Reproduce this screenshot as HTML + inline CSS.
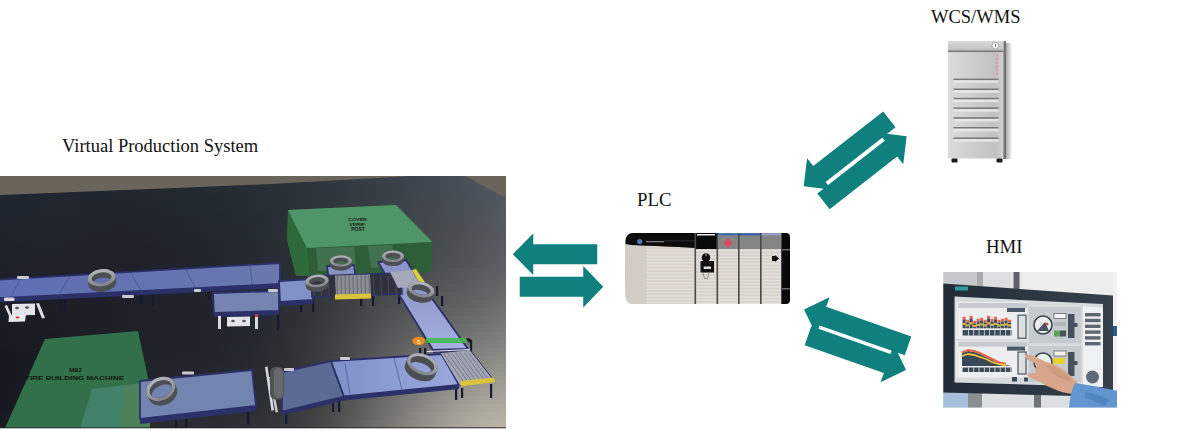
<!DOCTYPE html>
<html><head><meta charset="utf-8">
<style>
html,body{margin:0;padding:0;background:#fff;width:1200px;height:430px;overflow:hidden}
svg{display:block}
text{font-family:"Liberation Serif",serif}
.s{font-family:"Liberation Sans",sans-serif;font-weight:bold}
</style></head><body>
<svg width="1200" height="430" viewBox="0 0 1200 430">
<defs>
<filter id="fb" x="-10%" y="-10%" width="120%" height="120%"><feGaussianBlur stdDeviation="9"/></filter>
<linearGradient id="beltA" x1="0" x2="1"><stop offset="0" stop-color="#5f6db4"/><stop offset="1" stop-color="#6a78ae"/></linearGradient>
<linearGradient id="beltD" x1="0" y1="0" x2="0" y2="1"><stop offset="0" stop-color="#8a94c8"/><stop offset="1" stop-color="#a4b0de"/></linearGradient>
<linearGradient id="beltE" x1="0" x2="1"><stop offset="0" stop-color="#8090c8"/><stop offset="1" stop-color="#9aa8dc"/></linearGradient>
<linearGradient id="tireg" x1="0" y1="0" x2="0" y2="1"><stop offset="0" stop-color="#b4b8bc"/><stop offset="1" stop-color="#80848a"/></linearGradient>
<linearGradient id="f0" x1="0" x2="1"><stop offset="0.000" stop-color="#1e252f"/><stop offset="0.047" stop-color="#1f2630"/><stop offset="0.095" stop-color="#202730"/><stop offset="0.142" stop-color="#202730"/><stop offset="0.190" stop-color="#202730"/><stop offset="0.237" stop-color="#212730"/><stop offset="0.285" stop-color="#212730"/><stop offset="0.332" stop-color="#222831"/><stop offset="0.379" stop-color="#232a32"/><stop offset="0.427" stop-color="#242b34"/><stop offset="0.474" stop-color="#262d35"/><stop offset="0.522" stop-color="#282f37"/><stop offset="0.569" stop-color="#2a313a"/><stop offset="0.617" stop-color="#2d343d"/><stop offset="0.664" stop-color="#313740"/><stop offset="0.711" stop-color="#343b44"/><stop offset="0.759" stop-color="#383f48"/><stop offset="0.806" stop-color="#3c434c"/><stop offset="0.854" stop-color="#414851"/><stop offset="0.901" stop-color="#464d56"/><stop offset="0.949" stop-color="#4b525b"/><stop offset="0.996" stop-color="#505661"/><stop offset="1.000" stop-color="#505761"/></linearGradient>
<linearGradient id="f1" x1="0" x2="1"><stop offset="0.000" stop-color="#1e252f"/><stop offset="0.047" stop-color="#1f2630"/><stop offset="0.095" stop-color="#202730"/><stop offset="0.142" stop-color="#202730"/><stop offset="0.190" stop-color="#202630"/><stop offset="0.237" stop-color="#212630"/><stop offset="0.285" stop-color="#212730"/><stop offset="0.332" stop-color="#222831"/><stop offset="0.379" stop-color="#232932"/><stop offset="0.427" stop-color="#242b33"/><stop offset="0.474" stop-color="#262d35"/><stop offset="0.522" stop-color="#282f37"/><stop offset="0.569" stop-color="#2a313a"/><stop offset="0.617" stop-color="#2d343d"/><stop offset="0.664" stop-color="#313740"/><stop offset="0.711" stop-color="#343b44"/><stop offset="0.759" stop-color="#383f48"/><stop offset="0.806" stop-color="#3c434c"/><stop offset="0.854" stop-color="#414851"/><stop offset="0.901" stop-color="#464d56"/><stop offset="0.949" stop-color="#4b525b"/><stop offset="0.996" stop-color="#505761"/><stop offset="1.000" stop-color="#515761"/></linearGradient>
<linearGradient id="f2" x1="0" x2="1"><stop offset="0.000" stop-color="#1e252f"/><stop offset="0.047" stop-color="#1f2630"/><stop offset="0.095" stop-color="#202730"/><stop offset="0.142" stop-color="#202730"/><stop offset="0.190" stop-color="#202630"/><stop offset="0.237" stop-color="#212630"/><stop offset="0.285" stop-color="#212730"/><stop offset="0.332" stop-color="#222831"/><stop offset="0.379" stop-color="#232932"/><stop offset="0.427" stop-color="#242b33"/><stop offset="0.474" stop-color="#262d35"/><stop offset="0.522" stop-color="#282f37"/><stop offset="0.569" stop-color="#2a313a"/><stop offset="0.617" stop-color="#2d343d"/><stop offset="0.664" stop-color="#313740"/><stop offset="0.711" stop-color="#353b44"/><stop offset="0.759" stop-color="#383f47"/><stop offset="0.806" stop-color="#3d434c"/><stop offset="0.854" stop-color="#414851"/><stop offset="0.901" stop-color="#464d56"/><stop offset="0.949" stop-color="#4b525b"/><stop offset="0.996" stop-color="#515760"/><stop offset="1.000" stop-color="#515761"/></linearGradient>
<linearGradient id="f3" x1="0" x2="1"><stop offset="0.000" stop-color="#1e252f"/><stop offset="0.047" stop-color="#202630"/><stop offset="0.095" stop-color="#202630"/><stop offset="0.142" stop-color="#202630"/><stop offset="0.190" stop-color="#20262f"/><stop offset="0.237" stop-color="#21262f"/><stop offset="0.285" stop-color="#212630"/><stop offset="0.332" stop-color="#222830"/><stop offset="0.379" stop-color="#232931"/><stop offset="0.427" stop-color="#242b33"/><stop offset="0.474" stop-color="#262c35"/><stop offset="0.522" stop-color="#282e37"/><stop offset="0.569" stop-color="#2a3139"/><stop offset="0.617" stop-color="#2d343c"/><stop offset="0.664" stop-color="#313740"/><stop offset="0.711" stop-color="#353b43"/><stop offset="0.759" stop-color="#393f47"/><stop offset="0.806" stop-color="#3d434c"/><stop offset="0.854" stop-color="#424850"/><stop offset="0.901" stop-color="#474d56"/><stop offset="0.949" stop-color="#4c525b"/><stop offset="0.996" stop-color="#515760"/><stop offset="1.000" stop-color="#525861"/></linearGradient>
<linearGradient id="f4" x1="0" x2="1"><stop offset="0.000" stop-color="#1e252f"/><stop offset="0.047" stop-color="#202630"/><stop offset="0.095" stop-color="#202630"/><stop offset="0.142" stop-color="#202630"/><stop offset="0.190" stop-color="#20262f"/><stop offset="0.237" stop-color="#21262f"/><stop offset="0.285" stop-color="#21262f"/><stop offset="0.332" stop-color="#222730"/><stop offset="0.379" stop-color="#232931"/><stop offset="0.427" stop-color="#242b33"/><stop offset="0.474" stop-color="#262c34"/><stop offset="0.522" stop-color="#282e36"/><stop offset="0.569" stop-color="#2a3139"/><stop offset="0.617" stop-color="#2e343c"/><stop offset="0.664" stop-color="#31373f"/><stop offset="0.711" stop-color="#353b43"/><stop offset="0.759" stop-color="#393f47"/><stop offset="0.806" stop-color="#3d434b"/><stop offset="0.854" stop-color="#424850"/><stop offset="0.901" stop-color="#474d56"/><stop offset="0.949" stop-color="#4c525b"/><stop offset="0.996" stop-color="#525760"/><stop offset="1.000" stop-color="#525861"/></linearGradient>
<linearGradient id="f5" x1="0" x2="1"><stop offset="0.000" stop-color="#1e252e"/><stop offset="0.047" stop-color="#20262f"/><stop offset="0.095" stop-color="#202630"/><stop offset="0.142" stop-color="#21262f"/><stop offset="0.190" stop-color="#20262f"/><stop offset="0.237" stop-color="#21262f"/><stop offset="0.285" stop-color="#21262f"/><stop offset="0.332" stop-color="#222730"/><stop offset="0.379" stop-color="#232931"/><stop offset="0.427" stop-color="#242a32"/><stop offset="0.474" stop-color="#262c34"/><stop offset="0.522" stop-color="#282e36"/><stop offset="0.569" stop-color="#2a3139"/><stop offset="0.617" stop-color="#2e343c"/><stop offset="0.664" stop-color="#31373f"/><stop offset="0.711" stop-color="#353b43"/><stop offset="0.759" stop-color="#393f47"/><stop offset="0.806" stop-color="#3e444b"/><stop offset="0.854" stop-color="#424850"/><stop offset="0.901" stop-color="#474e56"/><stop offset="0.949" stop-color="#4c525b"/><stop offset="0.996" stop-color="#525860"/><stop offset="1.000" stop-color="#535861"/></linearGradient>
<linearGradient id="f6" x1="0" x2="1"><stop offset="0.000" stop-color="#1f252e"/><stop offset="0.047" stop-color="#20262f"/><stop offset="0.095" stop-color="#20262f"/><stop offset="0.142" stop-color="#21262f"/><stop offset="0.190" stop-color="#20262f"/><stop offset="0.237" stop-color="#20252e"/><stop offset="0.285" stop-color="#21262f"/><stop offset="0.332" stop-color="#21272f"/><stop offset="0.379" stop-color="#232831"/><stop offset="0.427" stop-color="#242a32"/><stop offset="0.474" stop-color="#262c34"/><stop offset="0.522" stop-color="#282e36"/><stop offset="0.569" stop-color="#2a3138"/><stop offset="0.617" stop-color="#2e343c"/><stop offset="0.664" stop-color="#31373f"/><stop offset="0.711" stop-color="#353b43"/><stop offset="0.759" stop-color="#393f47"/><stop offset="0.806" stop-color="#3e444b"/><stop offset="0.854" stop-color="#434850"/><stop offset="0.901" stop-color="#484e55"/><stop offset="0.949" stop-color="#4d525b"/><stop offset="0.996" stop-color="#525860"/><stop offset="1.000" stop-color="#535861"/></linearGradient>
<linearGradient id="f7" x1="0" x2="1"><stop offset="0.000" stop-color="#1f252e"/><stop offset="0.047" stop-color="#20262f"/><stop offset="0.095" stop-color="#21262f"/><stop offset="0.142" stop-color="#21262f"/><stop offset="0.190" stop-color="#20252e"/><stop offset="0.237" stop-color="#20252e"/><stop offset="0.285" stop-color="#21252e"/><stop offset="0.332" stop-color="#21262f"/><stop offset="0.379" stop-color="#222830"/><stop offset="0.427" stop-color="#242a32"/><stop offset="0.474" stop-color="#252c34"/><stop offset="0.522" stop-color="#282e36"/><stop offset="0.569" stop-color="#2a3138"/><stop offset="0.617" stop-color="#2e343b"/><stop offset="0.664" stop-color="#32373f"/><stop offset="0.711" stop-color="#363b43"/><stop offset="0.759" stop-color="#3a3f46"/><stop offset="0.806" stop-color="#3e444b"/><stop offset="0.854" stop-color="#43484f"/><stop offset="0.901" stop-color="#484e55"/><stop offset="0.949" stop-color="#4d535a"/><stop offset="0.996" stop-color="#535860"/><stop offset="1.000" stop-color="#535861"/></linearGradient>
<linearGradient id="f8" x1="0" x2="1"><stop offset="0.000" stop-color="#1f252e"/><stop offset="0.047" stop-color="#20262f"/><stop offset="0.095" stop-color="#21262f"/><stop offset="0.142" stop-color="#21262f"/><stop offset="0.190" stop-color="#20252e"/><stop offset="0.237" stop-color="#20252e"/><stop offset="0.285" stop-color="#21252e"/><stop offset="0.332" stop-color="#21262f"/><stop offset="0.379" stop-color="#222830"/><stop offset="0.427" stop-color="#242a32"/><stop offset="0.474" stop-color="#252b33"/><stop offset="0.522" stop-color="#282e35"/><stop offset="0.569" stop-color="#2a3038"/><stop offset="0.617" stop-color="#2e343b"/><stop offset="0.664" stop-color="#32373f"/><stop offset="0.711" stop-color="#363b42"/><stop offset="0.759" stop-color="#3a3f46"/><stop offset="0.806" stop-color="#3e444a"/><stop offset="0.854" stop-color="#43484f"/><stop offset="0.901" stop-color="#484e55"/><stop offset="0.949" stop-color="#4e535a"/><stop offset="0.996" stop-color="#535860"/><stop offset="1.000" stop-color="#545961"/></linearGradient>
<linearGradient id="f9" x1="0" x2="1"><stop offset="0.000" stop-color="#1f252e"/><stop offset="0.047" stop-color="#20262f"/><stop offset="0.095" stop-color="#21262f"/><stop offset="0.142" stop-color="#20252e"/><stop offset="0.190" stop-color="#20252e"/><stop offset="0.237" stop-color="#20242d"/><stop offset="0.285" stop-color="#20252e"/><stop offset="0.332" stop-color="#21262f"/><stop offset="0.379" stop-color="#222830"/><stop offset="0.427" stop-color="#242931"/><stop offset="0.474" stop-color="#252b33"/><stop offset="0.522" stop-color="#272d35"/><stop offset="0.569" stop-color="#2a3038"/><stop offset="0.617" stop-color="#2e343b"/><stop offset="0.664" stop-color="#32373e"/><stop offset="0.711" stop-color="#363b42"/><stop offset="0.759" stop-color="#3a3f46"/><stop offset="0.806" stop-color="#3f444a"/><stop offset="0.854" stop-color="#43494f"/><stop offset="0.901" stop-color="#494e54"/><stop offset="0.949" stop-color="#4e535a"/><stop offset="0.996" stop-color="#545860"/><stop offset="1.000" stop-color="#545961"/></linearGradient>
<linearGradient id="f10" x1="0" x2="1"><stop offset="0.000" stop-color="#1f242e"/><stop offset="0.047" stop-color="#20252f"/><stop offset="0.095" stop-color="#20262f"/><stop offset="0.142" stop-color="#20252e"/><stop offset="0.190" stop-color="#20252e"/><stop offset="0.237" stop-color="#20242d"/><stop offset="0.285" stop-color="#20252d"/><stop offset="0.332" stop-color="#21262e"/><stop offset="0.379" stop-color="#22272f"/><stop offset="0.427" stop-color="#232931"/><stop offset="0.474" stop-color="#252b33"/><stop offset="0.522" stop-color="#272d35"/><stop offset="0.569" stop-color="#2a3037"/><stop offset="0.617" stop-color="#2e333b"/><stop offset="0.664" stop-color="#32373e"/><stop offset="0.711" stop-color="#363b42"/><stop offset="0.759" stop-color="#3b4046"/><stop offset="0.806" stop-color="#3f444a"/><stop offset="0.854" stop-color="#44494f"/><stop offset="0.901" stop-color="#494e54"/><stop offset="0.949" stop-color="#4e535a"/><stop offset="0.996" stop-color="#545960"/><stop offset="1.000" stop-color="#555961"/></linearGradient>
<linearGradient id="f11" x1="0" x2="1"><stop offset="0.000" stop-color="#1f242e"/><stop offset="0.047" stop-color="#20252e"/><stop offset="0.095" stop-color="#20252e"/><stop offset="0.142" stop-color="#20252e"/><stop offset="0.190" stop-color="#20242d"/><stop offset="0.237" stop-color="#20242d"/><stop offset="0.285" stop-color="#20242d"/><stop offset="0.332" stop-color="#21252e"/><stop offset="0.379" stop-color="#22272f"/><stop offset="0.427" stop-color="#232931"/><stop offset="0.474" stop-color="#252b32"/><stop offset="0.522" stop-color="#272d35"/><stop offset="0.569" stop-color="#2a3037"/><stop offset="0.617" stop-color="#2e333a"/><stop offset="0.664" stop-color="#32373e"/><stop offset="0.711" stop-color="#373b42"/><stop offset="0.759" stop-color="#3b4046"/><stop offset="0.806" stop-color="#3f444a"/><stop offset="0.854" stop-color="#44494e"/><stop offset="0.901" stop-color="#494e54"/><stop offset="0.949" stop-color="#4f535a"/><stop offset="0.996" stop-color="#555960"/><stop offset="1.000" stop-color="#565a61"/></linearGradient>
<linearGradient id="f12" x1="0" x2="1"><stop offset="0.000" stop-color="#1f242d"/><stop offset="0.047" stop-color="#20252e"/><stop offset="0.095" stop-color="#20252e"/><stop offset="0.142" stop-color="#20252e"/><stop offset="0.190" stop-color="#20242d"/><stop offset="0.237" stop-color="#20242d"/><stop offset="0.285" stop-color="#20242d"/><stop offset="0.332" stop-color="#21252e"/><stop offset="0.379" stop-color="#22272f"/><stop offset="0.427" stop-color="#232830"/><stop offset="0.474" stop-color="#252a32"/><stop offset="0.522" stop-color="#272d34"/><stop offset="0.569" stop-color="#2a3037"/><stop offset="0.617" stop-color="#2e333a"/><stop offset="0.664" stop-color="#32373e"/><stop offset="0.711" stop-color="#373c42"/><stop offset="0.759" stop-color="#3b4046"/><stop offset="0.806" stop-color="#40444a"/><stop offset="0.854" stop-color="#44494e"/><stop offset="0.901" stop-color="#4a4e53"/><stop offset="0.949" stop-color="#4f535a"/><stop offset="0.996" stop-color="#555960"/><stop offset="1.000" stop-color="#565a61"/></linearGradient>
<linearGradient id="f13" x1="0" x2="1"><stop offset="0.000" stop-color="#1f242d"/><stop offset="0.047" stop-color="#20252e"/><stop offset="0.095" stop-color="#20252e"/><stop offset="0.142" stop-color="#20242d"/><stop offset="0.190" stop-color="#20242d"/><stop offset="0.237" stop-color="#20232c"/><stop offset="0.285" stop-color="#20242d"/><stop offset="0.332" stop-color="#21252d"/><stop offset="0.379" stop-color="#22262f"/><stop offset="0.427" stop-color="#232830"/><stop offset="0.474" stop-color="#252a32"/><stop offset="0.522" stop-color="#272d34"/><stop offset="0.569" stop-color="#2a3037"/><stop offset="0.617" stop-color="#2e333a"/><stop offset="0.664" stop-color="#33373e"/><stop offset="0.711" stop-color="#373c42"/><stop offset="0.759" stop-color="#3c4046"/><stop offset="0.806" stop-color="#40444a"/><stop offset="0.854" stop-color="#45494e"/><stop offset="0.901" stop-color="#4a4e53"/><stop offset="0.949" stop-color="#50535a"/><stop offset="0.996" stop-color="#565a60"/><stop offset="1.000" stop-color="#575a61"/></linearGradient>
<linearGradient id="f14" x1="0" x2="1"><stop offset="0.000" stop-color="#1f242d"/><stop offset="0.047" stop-color="#20252d"/><stop offset="0.095" stop-color="#20252d"/><stop offset="0.142" stop-color="#20242d"/><stop offset="0.190" stop-color="#20232c"/><stop offset="0.237" stop-color="#20232c"/><stop offset="0.285" stop-color="#20232c"/><stop offset="0.332" stop-color="#21242d"/><stop offset="0.379" stop-color="#21262e"/><stop offset="0.427" stop-color="#232830"/><stop offset="0.474" stop-color="#252a32"/><stop offset="0.522" stop-color="#272d34"/><stop offset="0.569" stop-color="#2a3037"/><stop offset="0.617" stop-color="#2e333a"/><stop offset="0.664" stop-color="#33373d"/><stop offset="0.711" stop-color="#373c42"/><stop offset="0.759" stop-color="#3c4046"/><stop offset="0.806" stop-color="#41454a"/><stop offset="0.854" stop-color="#45494e"/><stop offset="0.901" stop-color="#4a4e53"/><stop offset="0.949" stop-color="#505459"/><stop offset="0.996" stop-color="#575a61"/><stop offset="1.000" stop-color="#575b61"/></linearGradient>
<linearGradient id="f15" x1="0" x2="1"><stop offset="0.000" stop-color="#1e232c"/><stop offset="0.047" stop-color="#20242d"/><stop offset="0.095" stop-color="#20242d"/><stop offset="0.142" stop-color="#20242d"/><stop offset="0.190" stop-color="#20232c"/><stop offset="0.237" stop-color="#20232c"/><stop offset="0.285" stop-color="#20232c"/><stop offset="0.332" stop-color="#20242d"/><stop offset="0.379" stop-color="#21262e"/><stop offset="0.427" stop-color="#232830"/><stop offset="0.474" stop-color="#242a31"/><stop offset="0.522" stop-color="#272c34"/><stop offset="0.569" stop-color="#2a3036"/><stop offset="0.617" stop-color="#2e333a"/><stop offset="0.664" stop-color="#33383d"/><stop offset="0.711" stop-color="#383c41"/><stop offset="0.759" stop-color="#3c4146"/><stop offset="0.806" stop-color="#41454a"/><stop offset="0.854" stop-color="#46494e"/><stop offset="0.901" stop-color="#4b4e53"/><stop offset="0.949" stop-color="#515459"/><stop offset="0.996" stop-color="#575a61"/><stop offset="1.000" stop-color="#585b61"/></linearGradient>
<linearGradient id="f16" x1="0" x2="1"><stop offset="0.000" stop-color="#1e232c"/><stop offset="0.047" stop-color="#20242d"/><stop offset="0.095" stop-color="#20242d"/><stop offset="0.142" stop-color="#20232c"/><stop offset="0.190" stop-color="#20232c"/><stop offset="0.237" stop-color="#1f222b"/><stop offset="0.285" stop-color="#20232c"/><stop offset="0.332" stop-color="#20242d"/><stop offset="0.379" stop-color="#21252e"/><stop offset="0.427" stop-color="#22272f"/><stop offset="0.474" stop-color="#242931"/><stop offset="0.522" stop-color="#272c33"/><stop offset="0.569" stop-color="#2a2f36"/><stop offset="0.617" stop-color="#2f3339"/><stop offset="0.664" stop-color="#33383d"/><stop offset="0.711" stop-color="#383c41"/><stop offset="0.759" stop-color="#3d4146"/><stop offset="0.806" stop-color="#42454a"/><stop offset="0.854" stop-color="#464a4e"/><stop offset="0.901" stop-color="#4b4f53"/><stop offset="0.949" stop-color="#51545a"/><stop offset="0.996" stop-color="#585b61"/><stop offset="1.000" stop-color="#595c62"/></linearGradient>
<linearGradient id="f17" x1="0" x2="1"><stop offset="0.000" stop-color="#1e232c"/><stop offset="0.047" stop-color="#1f242c"/><stop offset="0.095" stop-color="#20242c"/><stop offset="0.142" stop-color="#20232c"/><stop offset="0.190" stop-color="#1f232b"/><stop offset="0.237" stop-color="#1f222b"/><stop offset="0.285" stop-color="#20222b"/><stop offset="0.332" stop-color="#20242c"/><stop offset="0.379" stop-color="#21252e"/><stop offset="0.427" stop-color="#22272f"/><stop offset="0.474" stop-color="#242931"/><stop offset="0.522" stop-color="#272c33"/><stop offset="0.569" stop-color="#2a2f36"/><stop offset="0.617" stop-color="#2f3339"/><stop offset="0.664" stop-color="#33383d"/><stop offset="0.711" stop-color="#383c41"/><stop offset="0.759" stop-color="#3d4146"/><stop offset="0.806" stop-color="#42464a"/><stop offset="0.854" stop-color="#474a4e"/><stop offset="0.901" stop-color="#4c4f53"/><stop offset="0.949" stop-color="#52555a"/><stop offset="0.996" stop-color="#595c61"/><stop offset="1.000" stop-color="#5a5c62"/></linearGradient>
<linearGradient id="f18" x1="0" x2="1"><stop offset="0.000" stop-color="#1e222b"/><stop offset="0.047" stop-color="#1f232c"/><stop offset="0.095" stop-color="#1f232c"/><stop offset="0.142" stop-color="#1f232b"/><stop offset="0.190" stop-color="#1f222b"/><stop offset="0.237" stop-color="#1f222b"/><stop offset="0.285" stop-color="#1f222b"/><stop offset="0.332" stop-color="#20232c"/><stop offset="0.379" stop-color="#21252d"/><stop offset="0.427" stop-color="#22272f"/><stop offset="0.474" stop-color="#242931"/><stop offset="0.522" stop-color="#272c33"/><stop offset="0.569" stop-color="#2a2f36"/><stop offset="0.617" stop-color="#2f3339"/><stop offset="0.664" stop-color="#34383d"/><stop offset="0.711" stop-color="#393d42"/><stop offset="0.759" stop-color="#3e4246"/><stop offset="0.806" stop-color="#43464a"/><stop offset="0.854" stop-color="#484b4e"/><stop offset="0.901" stop-color="#4d4f53"/><stop offset="0.949" stop-color="#53555a"/><stop offset="0.996" stop-color="#5a5c62"/><stop offset="1.000" stop-color="#5a5d62"/></linearGradient>
<linearGradient id="f19" x1="0" x2="1"><stop offset="0.000" stop-color="#1e222b"/><stop offset="0.047" stop-color="#1f232b"/><stop offset="0.095" stop-color="#1f232b"/><stop offset="0.142" stop-color="#1f222b"/><stop offset="0.190" stop-color="#1f222b"/><stop offset="0.237" stop-color="#1f222b"/><stop offset="0.285" stop-color="#1f222b"/><stop offset="0.332" stop-color="#20232c"/><stop offset="0.379" stop-color="#21252d"/><stop offset="0.427" stop-color="#22262f"/><stop offset="0.474" stop-color="#242931"/><stop offset="0.522" stop-color="#272c33"/><stop offset="0.569" stop-color="#2a2f36"/><stop offset="0.617" stop-color="#2f3339"/><stop offset="0.664" stop-color="#34383d"/><stop offset="0.711" stop-color="#393d42"/><stop offset="0.759" stop-color="#3e4246"/><stop offset="0.806" stop-color="#44474b"/><stop offset="0.854" stop-color="#484b4f"/><stop offset="0.901" stop-color="#4e5054"/><stop offset="0.949" stop-color="#53565a"/><stop offset="0.996" stop-color="#5b5d62"/><stop offset="1.000" stop-color="#5b5e63"/></linearGradient>
<linearGradient id="f20" x1="0" x2="1"><stop offset="0.000" stop-color="#1d212a"/><stop offset="0.047" stop-color="#1e222b"/><stop offset="0.095" stop-color="#1f222b"/><stop offset="0.142" stop-color="#1f222b"/><stop offset="0.190" stop-color="#1f222a"/><stop offset="0.237" stop-color="#1f212a"/><stop offset="0.285" stop-color="#1f222b"/><stop offset="0.332" stop-color="#20232c"/><stop offset="0.379" stop-color="#21242d"/><stop offset="0.427" stop-color="#22262f"/><stop offset="0.474" stop-color="#242830"/><stop offset="0.522" stop-color="#272b33"/><stop offset="0.569" stop-color="#2a2f35"/><stop offset="0.617" stop-color="#2f3339"/><stop offset="0.664" stop-color="#34383d"/><stop offset="0.711" stop-color="#3a3d42"/><stop offset="0.759" stop-color="#3f4247"/><stop offset="0.806" stop-color="#44474b"/><stop offset="0.854" stop-color="#494c4f"/><stop offset="0.901" stop-color="#4e5154"/><stop offset="0.949" stop-color="#54575b"/><stop offset="0.996" stop-color="#5c5e63"/><stop offset="1.000" stop-color="#5c5e63"/></linearGradient>
<linearGradient id="f21" x1="0" x2="1"><stop offset="0.000" stop-color="#1d212a"/><stop offset="0.047" stop-color="#1e222a"/><stop offset="0.095" stop-color="#1f222a"/><stop offset="0.142" stop-color="#1f222a"/><stop offset="0.190" stop-color="#1f212a"/><stop offset="0.237" stop-color="#1f212a"/><stop offset="0.285" stop-color="#1f222b"/><stop offset="0.332" stop-color="#20232c"/><stop offset="0.379" stop-color="#20242d"/><stop offset="0.427" stop-color="#22262e"/><stop offset="0.474" stop-color="#242830"/><stop offset="0.522" stop-color="#262b32"/><stop offset="0.569" stop-color="#2b2f35"/><stop offset="0.617" stop-color="#2f3339"/><stop offset="0.664" stop-color="#35383d"/><stop offset="0.711" stop-color="#3a3e42"/><stop offset="0.759" stop-color="#404347"/><stop offset="0.806" stop-color="#45484b"/><stop offset="0.854" stop-color="#4a4d50"/><stop offset="0.901" stop-color="#4f5255"/><stop offset="0.949" stop-color="#55585b"/><stop offset="0.996" stop-color="#5d5f63"/><stop offset="1.000" stop-color="#5d5f64"/></linearGradient>
<linearGradient id="f22" x1="0" x2="1"><stop offset="0.000" stop-color="#1d2129"/><stop offset="0.047" stop-color="#1e212a"/><stop offset="0.095" stop-color="#1e222a"/><stop offset="0.142" stop-color="#1f212a"/><stop offset="0.190" stop-color="#1f212a"/><stop offset="0.237" stop-color="#1f212a"/><stop offset="0.285" stop-color="#1f212a"/><stop offset="0.332" stop-color="#20222b"/><stop offset="0.379" stop-color="#20242d"/><stop offset="0.427" stop-color="#21262e"/><stop offset="0.474" stop-color="#232830"/><stop offset="0.522" stop-color="#262b32"/><stop offset="0.569" stop-color="#2b2f35"/><stop offset="0.617" stop-color="#303339"/><stop offset="0.664" stop-color="#35393d"/><stop offset="0.711" stop-color="#3b3e42"/><stop offset="0.759" stop-color="#404447"/><stop offset="0.806" stop-color="#46494c"/><stop offset="0.854" stop-color="#4b4e50"/><stop offset="0.901" stop-color="#505355"/><stop offset="0.949" stop-color="#56585c"/><stop offset="0.996" stop-color="#5e6064"/><stop offset="1.000" stop-color="#5f6064"/></linearGradient>
<linearGradient id="f23" x1="0" x2="1"><stop offset="0.000" stop-color="#1c2029"/><stop offset="0.047" stop-color="#1e2129"/><stop offset="0.095" stop-color="#1e212a"/><stop offset="0.142" stop-color="#1e212a"/><stop offset="0.190" stop-color="#1f212a"/><stop offset="0.237" stop-color="#1f212a"/><stop offset="0.285" stop-color="#1f212a"/><stop offset="0.332" stop-color="#1f222b"/><stop offset="0.379" stop-color="#20242d"/><stop offset="0.427" stop-color="#21252e"/><stop offset="0.474" stop-color="#232830"/><stop offset="0.522" stop-color="#262b32"/><stop offset="0.569" stop-color="#2b2f35"/><stop offset="0.617" stop-color="#303439"/><stop offset="0.664" stop-color="#35393d"/><stop offset="0.711" stop-color="#3b3e42"/><stop offset="0.759" stop-color="#414448"/><stop offset="0.806" stop-color="#474a4d"/><stop offset="0.854" stop-color="#4c4f51"/><stop offset="0.901" stop-color="#525456"/><stop offset="0.949" stop-color="#585a5d"/><stop offset="0.996" stop-color="#5f6164"/><stop offset="1.000" stop-color="#606265"/></linearGradient>
<linearGradient id="f24" x1="0" x2="1"><stop offset="0.000" stop-color="#1c2028"/><stop offset="0.047" stop-color="#1d2129"/><stop offset="0.095" stop-color="#1e2129"/><stop offset="0.142" stop-color="#1e2129"/><stop offset="0.190" stop-color="#1e2129"/><stop offset="0.237" stop-color="#1f212a"/><stop offset="0.285" stop-color="#1f212a"/><stop offset="0.332" stop-color="#1f222b"/><stop offset="0.379" stop-color="#20232c"/><stop offset="0.427" stop-color="#21252e"/><stop offset="0.474" stop-color="#232830"/><stop offset="0.522" stop-color="#262b32"/><stop offset="0.569" stop-color="#2b2f35"/><stop offset="0.617" stop-color="#303439"/><stop offset="0.664" stop-color="#36393d"/><stop offset="0.711" stop-color="#3c3f43"/><stop offset="0.759" stop-color="#424548"/><stop offset="0.806" stop-color="#484a4d"/><stop offset="0.854" stop-color="#4d5052"/><stop offset="0.901" stop-color="#535557"/><stop offset="0.949" stop-color="#595b5d"/><stop offset="0.996" stop-color="#606265"/><stop offset="1.000" stop-color="#616366"/></linearGradient>
<linearGradient id="f25" x1="0" x2="1"><stop offset="0.000" stop-color="#1c1f28"/><stop offset="0.047" stop-color="#1d2028"/><stop offset="0.095" stop-color="#1e2029"/><stop offset="0.142" stop-color="#1e2029"/><stop offset="0.190" stop-color="#1e2029"/><stop offset="0.237" stop-color="#1e2129"/><stop offset="0.285" stop-color="#1f212a"/><stop offset="0.332" stop-color="#1f222b"/><stop offset="0.379" stop-color="#20232c"/><stop offset="0.427" stop-color="#21252e"/><stop offset="0.474" stop-color="#23272f"/><stop offset="0.522" stop-color="#262b32"/><stop offset="0.569" stop-color="#2b2f35"/><stop offset="0.617" stop-color="#303438"/><stop offset="0.664" stop-color="#36393d"/><stop offset="0.711" stop-color="#3c3f43"/><stop offset="0.759" stop-color="#434649"/><stop offset="0.806" stop-color="#494b4e"/><stop offset="0.854" stop-color="#4e5153"/><stop offset="0.901" stop-color="#545658"/><stop offset="0.949" stop-color="#5a5c5e"/><stop offset="0.996" stop-color="#626466"/><stop offset="1.000" stop-color="#636467"/></linearGradient>
<linearGradient id="f26" x1="0" x2="1"><stop offset="0.000" stop-color="#1b1f27"/><stop offset="0.047" stop-color="#1d2028"/><stop offset="0.095" stop-color="#1d2028"/><stop offset="0.142" stop-color="#1e2029"/><stop offset="0.190" stop-color="#1e2029"/><stop offset="0.237" stop-color="#1e2029"/><stop offset="0.285" stop-color="#1f212a"/><stop offset="0.332" stop-color="#1f222b"/><stop offset="0.379" stop-color="#20232c"/><stop offset="0.427" stop-color="#21252e"/><stop offset="0.474" stop-color="#23272f"/><stop offset="0.522" stop-color="#262b32"/><stop offset="0.569" stop-color="#2b2f35"/><stop offset="0.617" stop-color="#303438"/><stop offset="0.664" stop-color="#373a3d"/><stop offset="0.711" stop-color="#3d4043"/><stop offset="0.759" stop-color="#444649"/><stop offset="0.806" stop-color="#4a4c4f"/><stop offset="0.854" stop-color="#505254"/><stop offset="0.901" stop-color="#555859"/><stop offset="0.949" stop-color="#5c5e5f"/><stop offset="0.996" stop-color="#636567"/><stop offset="1.000" stop-color="#646668"/></linearGradient>
<linearGradient id="f27" x1="0" x2="1"><stop offset="0.000" stop-color="#1b1e27"/><stop offset="0.047" stop-color="#1c1f28"/><stop offset="0.095" stop-color="#1d2028"/><stop offset="0.142" stop-color="#1e2028"/><stop offset="0.190" stop-color="#1e2029"/><stop offset="0.237" stop-color="#1e2029"/><stop offset="0.285" stop-color="#1f212a"/><stop offset="0.332" stop-color="#1f222b"/><stop offset="0.379" stop-color="#20232c"/><stop offset="0.427" stop-color="#21252d"/><stop offset="0.474" stop-color="#23272f"/><stop offset="0.522" stop-color="#262a32"/><stop offset="0.569" stop-color="#2b2f35"/><stop offset="0.617" stop-color="#313438"/><stop offset="0.664" stop-color="#373a3d"/><stop offset="0.711" stop-color="#3e4044"/><stop offset="0.759" stop-color="#44474a"/><stop offset="0.806" stop-color="#4b4d50"/><stop offset="0.854" stop-color="#515355"/><stop offset="0.901" stop-color="#57595a"/><stop offset="0.949" stop-color="#5d5f60"/><stop offset="0.996" stop-color="#656768"/><stop offset="1.000" stop-color="#666769"/></linearGradient>
<linearGradient id="f28" x1="0" x2="1"><stop offset="0.000" stop-color="#1b1e27"/><stop offset="0.047" stop-color="#1c1f27"/><stop offset="0.095" stop-color="#1d1f28"/><stop offset="0.142" stop-color="#1d2028"/><stop offset="0.190" stop-color="#1e2028"/><stop offset="0.237" stop-color="#1e2029"/><stop offset="0.285" stop-color="#1f212a"/><stop offset="0.332" stop-color="#1f212b"/><stop offset="0.379" stop-color="#20232c"/><stop offset="0.427" stop-color="#21242d"/><stop offset="0.474" stop-color="#23272f"/><stop offset="0.522" stop-color="#262a31"/><stop offset="0.569" stop-color="#2b2f34"/><stop offset="0.617" stop-color="#313439"/><stop offset="0.664" stop-color="#383a3e"/><stop offset="0.711" stop-color="#3e4144"/><stop offset="0.759" stop-color="#45484b"/><stop offset="0.806" stop-color="#4c4e51"/><stop offset="0.854" stop-color="#525556"/><stop offset="0.901" stop-color="#585a5b"/><stop offset="0.949" stop-color="#5f6162"/><stop offset="0.996" stop-color="#676869"/><stop offset="1.000" stop-color="#67696a"/></linearGradient>
<linearGradient id="f29" x1="0" x2="1"><stop offset="0.000" stop-color="#1a1e26"/><stop offset="0.047" stop-color="#1c1e27"/><stop offset="0.095" stop-color="#1d1f27"/><stop offset="0.142" stop-color="#1d1f28"/><stop offset="0.190" stop-color="#1e2028"/><stop offset="0.237" stop-color="#1e2029"/><stop offset="0.285" stop-color="#1f2129"/><stop offset="0.332" stop-color="#1f212b"/><stop offset="0.379" stop-color="#20232c"/><stop offset="0.427" stop-color="#21242d"/><stop offset="0.474" stop-color="#22272f"/><stop offset="0.522" stop-color="#262a31"/><stop offset="0.569" stop-color="#2b2f34"/><stop offset="0.617" stop-color="#313439"/><stop offset="0.664" stop-color="#383b3e"/><stop offset="0.711" stop-color="#3f4244"/><stop offset="0.759" stop-color="#46494c"/><stop offset="0.806" stop-color="#4d5052"/><stop offset="0.854" stop-color="#545657"/><stop offset="0.901" stop-color="#5a5c5d"/><stop offset="0.949" stop-color="#606263"/><stop offset="0.996" stop-color="#686a6b"/><stop offset="1.000" stop-color="#696b6b"/></linearGradient>
<linearGradient id="f30" x1="0" x2="1"><stop offset="0.000" stop-color="#1a1d26"/><stop offset="0.047" stop-color="#1b1e26"/><stop offset="0.095" stop-color="#1c1f27"/><stop offset="0.142" stop-color="#1d1f27"/><stop offset="0.190" stop-color="#1e1f28"/><stop offset="0.237" stop-color="#1e2029"/><stop offset="0.285" stop-color="#1f2029"/><stop offset="0.332" stop-color="#1f212a"/><stop offset="0.379" stop-color="#20232c"/><stop offset="0.427" stop-color="#21242d"/><stop offset="0.474" stop-color="#22272f"/><stop offset="0.522" stop-color="#262a31"/><stop offset="0.569" stop-color="#2b2f34"/><stop offset="0.617" stop-color="#323539"/><stop offset="0.664" stop-color="#393b3e"/><stop offset="0.711" stop-color="#404245"/><stop offset="0.759" stop-color="#474a4c"/><stop offset="0.806" stop-color="#4e5153"/><stop offset="0.854" stop-color="#555759"/><stop offset="0.901" stop-color="#5c5e5e"/><stop offset="0.949" stop-color="#626464"/><stop offset="0.996" stop-color="#6a6c6c"/><stop offset="1.000" stop-color="#6b6c6d"/></linearGradient>
<linearGradient id="f31" x1="0" x2="1"><stop offset="0.000" stop-color="#1a1d25"/><stop offset="0.047" stop-color="#1b1e26"/><stop offset="0.095" stop-color="#1c1e26"/><stop offset="0.142" stop-color="#1d1f27"/><stop offset="0.190" stop-color="#1e1f28"/><stop offset="0.237" stop-color="#1e2028"/><stop offset="0.285" stop-color="#1f2029"/><stop offset="0.332" stop-color="#1f212a"/><stop offset="0.379" stop-color="#20222c"/><stop offset="0.427" stop-color="#21242d"/><stop offset="0.474" stop-color="#22262f"/><stop offset="0.522" stop-color="#262a31"/><stop offset="0.569" stop-color="#2b2f34"/><stop offset="0.617" stop-color="#323539"/><stop offset="0.664" stop-color="#393c3e"/><stop offset="0.711" stop-color="#414345"/><stop offset="0.759" stop-color="#484b4d"/><stop offset="0.806" stop-color="#505254"/><stop offset="0.854" stop-color="#57595a"/><stop offset="0.901" stop-color="#5d5f5f"/><stop offset="0.949" stop-color="#646665"/><stop offset="0.996" stop-color="#6c6e6d"/><stop offset="1.000" stop-color="#6d6e6e"/></linearGradient>
<linearGradient id="f32" x1="0" x2="1"><stop offset="0.000" stop-color="#1a1c25"/><stop offset="0.047" stop-color="#1b1d25"/><stop offset="0.095" stop-color="#1c1e26"/><stop offset="0.142" stop-color="#1d1f27"/><stop offset="0.190" stop-color="#1d1f27"/><stop offset="0.237" stop-color="#1e2028"/><stop offset="0.285" stop-color="#1f2029"/><stop offset="0.332" stop-color="#1f212a"/><stop offset="0.379" stop-color="#20222c"/><stop offset="0.427" stop-color="#20242d"/><stop offset="0.474" stop-color="#22262f"/><stop offset="0.522" stop-color="#262a31"/><stop offset="0.569" stop-color="#2c2f34"/><stop offset="0.617" stop-color="#323539"/><stop offset="0.664" stop-color="#3a3c3f"/><stop offset="0.711" stop-color="#424446"/><stop offset="0.759" stop-color="#494c4e"/><stop offset="0.806" stop-color="#515355"/><stop offset="0.854" stop-color="#585b5b"/><stop offset="0.901" stop-color="#5f6161"/><stop offset="0.949" stop-color="#666867"/><stop offset="0.996" stop-color="#6e706f"/><stop offset="1.000" stop-color="#6f706f"/></linearGradient>
<linearGradient id="f33" x1="0" x2="1"><stop offset="0.000" stop-color="#191c24"/><stop offset="0.047" stop-color="#1a1d25"/><stop offset="0.095" stop-color="#1c1e26"/><stop offset="0.142" stop-color="#1d1e26"/><stop offset="0.190" stop-color="#1d1f27"/><stop offset="0.237" stop-color="#1e2028"/><stop offset="0.285" stop-color="#1f2029"/><stop offset="0.332" stop-color="#1f212a"/><stop offset="0.379" stop-color="#20222c"/><stop offset="0.427" stop-color="#20242d"/><stop offset="0.474" stop-color="#22262f"/><stop offset="0.522" stop-color="#262a31"/><stop offset="0.569" stop-color="#2c2f34"/><stop offset="0.617" stop-color="#333539"/><stop offset="0.664" stop-color="#3a3c3f"/><stop offset="0.711" stop-color="#424447"/><stop offset="0.759" stop-color="#4b4d4f"/><stop offset="0.806" stop-color="#535557"/><stop offset="0.854" stop-color="#5a5c5d"/><stop offset="0.901" stop-color="#616362"/><stop offset="0.949" stop-color="#686a69"/><stop offset="0.996" stop-color="#707170"/><stop offset="1.000" stop-color="#717271"/></linearGradient>
<linearGradient id="f34" x1="0" x2="1"><stop offset="0.000" stop-color="#191c24"/><stop offset="0.047" stop-color="#1a1c25"/><stop offset="0.095" stop-color="#1b1d25"/><stop offset="0.142" stop-color="#1c1e26"/><stop offset="0.190" stop-color="#1d1f27"/><stop offset="0.237" stop-color="#1e2028"/><stop offset="0.285" stop-color="#1f2029"/><stop offset="0.332" stop-color="#1f212a"/><stop offset="0.379" stop-color="#20222c"/><stop offset="0.427" stop-color="#20242d"/><stop offset="0.474" stop-color="#22262f"/><stop offset="0.522" stop-color="#262a31"/><stop offset="0.569" stop-color="#2c2f34"/><stop offset="0.617" stop-color="#333539"/><stop offset="0.664" stop-color="#3b3d3f"/><stop offset="0.711" stop-color="#434547"/><stop offset="0.759" stop-color="#4c4e50"/><stop offset="0.806" stop-color="#545658"/><stop offset="0.854" stop-color="#5c5e5e"/><stop offset="0.901" stop-color="#636564"/><stop offset="0.949" stop-color="#6a6c6a"/><stop offset="0.996" stop-color="#727372"/><stop offset="1.000" stop-color="#737473"/></linearGradient>
<linearGradient id="f35" x1="0" x2="1"><stop offset="0.000" stop-color="#191b24"/><stop offset="0.047" stop-color="#1a1c24"/><stop offset="0.095" stop-color="#1b1d25"/><stop offset="0.142" stop-color="#1c1e26"/><stop offset="0.190" stop-color="#1d1f27"/><stop offset="0.237" stop-color="#1e2028"/><stop offset="0.285" stop-color="#1f2029"/><stop offset="0.332" stop-color="#1f212a"/><stop offset="0.379" stop-color="#20222c"/><stop offset="0.427" stop-color="#21242d"/><stop offset="0.474" stop-color="#22262f"/><stop offset="0.522" stop-color="#262a31"/><stop offset="0.569" stop-color="#2c2f34"/><stop offset="0.617" stop-color="#333639"/><stop offset="0.664" stop-color="#3b3d40"/><stop offset="0.711" stop-color="#444648"/><stop offset="0.759" stop-color="#4d4f51"/><stop offset="0.806" stop-color="#565859"/><stop offset="0.854" stop-color="#5e6060"/><stop offset="0.901" stop-color="#656766"/><stop offset="0.949" stop-color="#6c6e6c"/><stop offset="0.996" stop-color="#747674"/><stop offset="1.000" stop-color="#757674"/></linearGradient>
<linearGradient id="f36" x1="0" x2="1"><stop offset="0.000" stop-color="#181b23"/><stop offset="0.047" stop-color="#1a1c24"/><stop offset="0.095" stop-color="#1b1d25"/><stop offset="0.142" stop-color="#1c1e26"/><stop offset="0.190" stop-color="#1d1f27"/><stop offset="0.237" stop-color="#1e2028"/><stop offset="0.285" stop-color="#1f2029"/><stop offset="0.332" stop-color="#20212a"/><stop offset="0.379" stop-color="#20222c"/><stop offset="0.427" stop-color="#21242d"/><stop offset="0.474" stop-color="#22262f"/><stop offset="0.522" stop-color="#262a31"/><stop offset="0.569" stop-color="#2c2f35"/><stop offset="0.617" stop-color="#343639"/><stop offset="0.664" stop-color="#3c3e40"/><stop offset="0.711" stop-color="#454749"/><stop offset="0.759" stop-color="#4e5052"/><stop offset="0.806" stop-color="#57595b"/><stop offset="0.854" stop-color="#606261"/><stop offset="0.901" stop-color="#676968"/><stop offset="0.949" stop-color="#6e706e"/><stop offset="0.996" stop-color="#767875"/><stop offset="1.000" stop-color="#777876"/></linearGradient>
<linearGradient id="f37" x1="0" x2="1"><stop offset="0.000" stop-color="#181b23"/><stop offset="0.047" stop-color="#191c24"/><stop offset="0.095" stop-color="#1b1d24"/><stop offset="0.142" stop-color="#1c1e26"/><stop offset="0.190" stop-color="#1d1f27"/><stop offset="0.237" stop-color="#1e2028"/><stop offset="0.285" stop-color="#1f2129"/><stop offset="0.332" stop-color="#20212a"/><stop offset="0.379" stop-color="#20222c"/><stop offset="0.427" stop-color="#21242d"/><stop offset="0.474" stop-color="#22262f"/><stop offset="0.522" stop-color="#262a31"/><stop offset="0.569" stop-color="#2d2f35"/><stop offset="0.617" stop-color="#34363a"/><stop offset="0.664" stop-color="#3d3e41"/><stop offset="0.711" stop-color="#464849"/><stop offset="0.759" stop-color="#4f5153"/><stop offset="0.806" stop-color="#595b5c"/><stop offset="0.854" stop-color="#626363"/><stop offset="0.901" stop-color="#696b6a"/><stop offset="0.949" stop-color="#717270"/><stop offset="0.996" stop-color="#797a77"/><stop offset="1.000" stop-color="#797a78"/></linearGradient>
<linearGradient id="f38" x1="0" x2="1"><stop offset="0.000" stop-color="#181a23"/><stop offset="0.047" stop-color="#191b23"/><stop offset="0.095" stop-color="#1b1c24"/><stop offset="0.142" stop-color="#1c1e25"/><stop offset="0.190" stop-color="#1d1f27"/><stop offset="0.237" stop-color="#1e2028"/><stop offset="0.285" stop-color="#1f2129"/><stop offset="0.332" stop-color="#20212a"/><stop offset="0.379" stop-color="#20222c"/><stop offset="0.427" stop-color="#21242d"/><stop offset="0.474" stop-color="#22262f"/><stop offset="0.522" stop-color="#262a31"/><stop offset="0.569" stop-color="#2d3035"/><stop offset="0.617" stop-color="#35373a"/><stop offset="0.664" stop-color="#3d3f41"/><stop offset="0.711" stop-color="#47484a"/><stop offset="0.759" stop-color="#515354"/><stop offset="0.806" stop-color="#5a5c5d"/><stop offset="0.854" stop-color="#646565"/><stop offset="0.901" stop-color="#6c6d6b"/><stop offset="0.949" stop-color="#737572"/><stop offset="0.996" stop-color="#7b7c79"/><stop offset="1.000" stop-color="#7c7d7a"/></linearGradient>
<linearGradient id="f39" x1="0" x2="1"><stop offset="0.000" stop-color="#181a23"/><stop offset="0.047" stop-color="#191b23"/><stop offset="0.095" stop-color="#1a1c24"/><stop offset="0.142" stop-color="#1c1e25"/><stop offset="0.190" stop-color="#1d1f27"/><stop offset="0.237" stop-color="#1e2028"/><stop offset="0.285" stop-color="#1f2129"/><stop offset="0.332" stop-color="#20222a"/><stop offset="0.379" stop-color="#20232c"/><stop offset="0.427" stop-color="#21242d"/><stop offset="0.474" stop-color="#22262f"/><stop offset="0.522" stop-color="#262a31"/><stop offset="0.569" stop-color="#2d3035"/><stop offset="0.617" stop-color="#35373a"/><stop offset="0.664" stop-color="#3e4042"/><stop offset="0.711" stop-color="#48494b"/><stop offset="0.759" stop-color="#525455"/><stop offset="0.806" stop-color="#5c5e5f"/><stop offset="0.854" stop-color="#666767"/><stop offset="0.901" stop-color="#6e6f6d"/><stop offset="0.949" stop-color="#757774"/><stop offset="0.996" stop-color="#7d7e7b"/><stop offset="1.000" stop-color="#7e7f7c"/></linearGradient>
<linearGradient id="f40" x1="0" x2="1"><stop offset="0.000" stop-color="#181a22"/><stop offset="0.047" stop-color="#191b23"/><stop offset="0.095" stop-color="#1a1c24"/><stop offset="0.142" stop-color="#1c1e25"/><stop offset="0.190" stop-color="#1d1f27"/><stop offset="0.237" stop-color="#1e2028"/><stop offset="0.285" stop-color="#1f2129"/><stop offset="0.332" stop-color="#20222a"/><stop offset="0.379" stop-color="#21232c"/><stop offset="0.427" stop-color="#21242d"/><stop offset="0.474" stop-color="#23262f"/><stop offset="0.522" stop-color="#272a31"/><stop offset="0.569" stop-color="#2d3035"/><stop offset="0.617" stop-color="#35373a"/><stop offset="0.664" stop-color="#3e4042"/><stop offset="0.711" stop-color="#494a4c"/><stop offset="0.759" stop-color="#535556"/><stop offset="0.806" stop-color="#5e6060"/><stop offset="0.854" stop-color="#686968"/><stop offset="0.901" stop-color="#70726f"/><stop offset="0.949" stop-color="#787976"/><stop offset="0.996" stop-color="#80807d"/><stop offset="1.000" stop-color="#80817d"/></linearGradient>
<linearGradient id="f41" x1="0" x2="1"><stop offset="0.000" stop-color="#171a22"/><stop offset="0.047" stop-color="#191b23"/><stop offset="0.095" stop-color="#1a1c24"/><stop offset="0.142" stop-color="#1c1d25"/><stop offset="0.190" stop-color="#1d1f27"/><stop offset="0.237" stop-color="#1f2028"/><stop offset="0.285" stop-color="#202129"/><stop offset="0.332" stop-color="#20222a"/><stop offset="0.379" stop-color="#21232c"/><stop offset="0.427" stop-color="#21242d"/><stop offset="0.474" stop-color="#23262f"/><stop offset="0.522" stop-color="#272a31"/><stop offset="0.569" stop-color="#2e3035"/><stop offset="0.617" stop-color="#36383b"/><stop offset="0.664" stop-color="#3f4143"/><stop offset="0.711" stop-color="#4a4b4d"/><stop offset="0.759" stop-color="#555658"/><stop offset="0.806" stop-color="#606162"/><stop offset="0.854" stop-color="#6a6b6a"/><stop offset="0.901" stop-color="#737471"/><stop offset="0.949" stop-color="#7a7c78"/><stop offset="0.996" stop-color="#82837f"/><stop offset="1.000" stop-color="#83837f"/></linearGradient>
<linearGradient id="f42" x1="0" x2="1"><stop offset="0.000" stop-color="#171a22"/><stop offset="0.047" stop-color="#191b23"/><stop offset="0.095" stop-color="#1a1c24"/><stop offset="0.142" stop-color="#1c1d25"/><stop offset="0.190" stop-color="#1d1f26"/><stop offset="0.237" stop-color="#1f2028"/><stop offset="0.285" stop-color="#202129"/><stop offset="0.332" stop-color="#21222a"/><stop offset="0.379" stop-color="#21232c"/><stop offset="0.427" stop-color="#22242d"/><stop offset="0.474" stop-color="#23272f"/><stop offset="0.522" stop-color="#272a31"/><stop offset="0.569" stop-color="#2e3035"/><stop offset="0.617" stop-color="#36383b"/><stop offset="0.664" stop-color="#404143"/><stop offset="0.711" stop-color="#4b4c4d"/><stop offset="0.759" stop-color="#565859"/><stop offset="0.806" stop-color="#626363"/><stop offset="0.854" stop-color="#6c6d6c"/><stop offset="0.901" stop-color="#757673"/><stop offset="0.949" stop-color="#7d7e7a"/><stop offset="0.996" stop-color="#858581"/><stop offset="1.000" stop-color="#858681"/></linearGradient>
<linearGradient id="f43" x1="0" x2="1"><stop offset="0.000" stop-color="#171922"/><stop offset="0.047" stop-color="#191b23"/><stop offset="0.095" stop-color="#1a1c24"/><stop offset="0.142" stop-color="#1c1d25"/><stop offset="0.190" stop-color="#1d1f26"/><stop offset="0.237" stop-color="#1f2028"/><stop offset="0.285" stop-color="#202229"/><stop offset="0.332" stop-color="#21222b"/><stop offset="0.379" stop-color="#21232c"/><stop offset="0.427" stop-color="#22252d"/><stop offset="0.474" stop-color="#23272f"/><stop offset="0.522" stop-color="#282b31"/><stop offset="0.569" stop-color="#2e3035"/><stop offset="0.617" stop-color="#37383b"/><stop offset="0.664" stop-color="#404244"/><stop offset="0.711" stop-color="#4c4d4e"/><stop offset="0.759" stop-color="#58595a"/><stop offset="0.806" stop-color="#636564"/><stop offset="0.854" stop-color="#6e6f6e"/><stop offset="0.901" stop-color="#787976"/><stop offset="0.949" stop-color="#80807c"/><stop offset="0.996" stop-color="#878883"/><stop offset="1.000" stop-color="#888884"/></linearGradient>
<linearGradient id="f44" x1="0" x2="1"><stop offset="0.000" stop-color="#171922"/><stop offset="0.047" stop-color="#181a23"/><stop offset="0.095" stop-color="#1a1c24"/><stop offset="0.142" stop-color="#1c1e25"/><stop offset="0.190" stop-color="#1e1f27"/><stop offset="0.237" stop-color="#1f2128"/><stop offset="0.285" stop-color="#202229"/><stop offset="0.332" stop-color="#21232b"/><stop offset="0.379" stop-color="#22232c"/><stop offset="0.427" stop-color="#22252d"/><stop offset="0.474" stop-color="#24272f"/><stop offset="0.522" stop-color="#282b31"/><stop offset="0.569" stop-color="#2e3135"/><stop offset="0.617" stop-color="#37383c"/><stop offset="0.664" stop-color="#414244"/><stop offset="0.711" stop-color="#4d4e4f"/><stop offset="0.759" stop-color="#595a5b"/><stop offset="0.806" stop-color="#656666"/><stop offset="0.854" stop-color="#717270"/><stop offset="0.901" stop-color="#7a7b78"/><stop offset="0.949" stop-color="#82837f"/><stop offset="0.996" stop-color="#8a8a85"/><stop offset="1.000" stop-color="#8b8b86"/></linearGradient>
<linearGradient id="f45" x1="0" x2="1"><stop offset="0.000" stop-color="#171922"/><stop offset="0.047" stop-color="#181a22"/><stop offset="0.095" stop-color="#1a1c24"/><stop offset="0.142" stop-color="#1c1e25"/><stop offset="0.190" stop-color="#1e1f27"/><stop offset="0.237" stop-color="#1f2128"/><stop offset="0.285" stop-color="#202229"/><stop offset="0.332" stop-color="#21232b"/><stop offset="0.379" stop-color="#22242c"/><stop offset="0.427" stop-color="#22252d"/><stop offset="0.474" stop-color="#24272f"/><stop offset="0.522" stop-color="#282b31"/><stop offset="0.569" stop-color="#2f3136"/><stop offset="0.617" stop-color="#37393c"/><stop offset="0.664" stop-color="#424345"/><stop offset="0.711" stop-color="#4e4f50"/><stop offset="0.759" stop-color="#5a5c5c"/><stop offset="0.806" stop-color="#676867"/><stop offset="0.854" stop-color="#737471"/><stop offset="0.901" stop-color="#7d7e7a"/><stop offset="0.949" stop-color="#858581"/><stop offset="0.996" stop-color="#8d8c87"/><stop offset="1.000" stop-color="#8d8d88"/></linearGradient>
<linearGradient id="f46" x1="0" x2="1"><stop offset="0.000" stop-color="#171922"/><stop offset="0.047" stop-color="#181a22"/><stop offset="0.095" stop-color="#1a1c24"/><stop offset="0.142" stop-color="#1c1e25"/><stop offset="0.190" stop-color="#1e1f27"/><stop offset="0.237" stop-color="#1f2128"/><stop offset="0.285" stop-color="#21222a"/><stop offset="0.332" stop-color="#22232b"/><stop offset="0.379" stop-color="#22242c"/><stop offset="0.427" stop-color="#23252d"/><stop offset="0.474" stop-color="#25272f"/><stop offset="0.522" stop-color="#292b31"/><stop offset="0.569" stop-color="#2f3136"/><stop offset="0.617" stop-color="#38393c"/><stop offset="0.664" stop-color="#424445"/><stop offset="0.711" stop-color="#4f5050"/><stop offset="0.759" stop-color="#5c5d5d"/><stop offset="0.806" stop-color="#696a69"/><stop offset="0.854" stop-color="#757673"/><stop offset="0.901" stop-color="#80807c"/><stop offset="0.949" stop-color="#888883"/><stop offset="0.996" stop-color="#8f8f89"/><stop offset="1.000" stop-color="#908f8a"/></linearGradient>
<linearGradient id="f47" x1="0" x2="1"><stop offset="0.000" stop-color="#171922"/><stop offset="0.047" stop-color="#181a22"/><stop offset="0.095" stop-color="#1a1c24"/><stop offset="0.142" stop-color="#1c1e25"/><stop offset="0.190" stop-color="#1e2027"/><stop offset="0.237" stop-color="#202128"/><stop offset="0.285" stop-color="#21232a"/><stop offset="0.332" stop-color="#22242b"/><stop offset="0.379" stop-color="#22242c"/><stop offset="0.427" stop-color="#23262d"/><stop offset="0.474" stop-color="#25282f"/><stop offset="0.522" stop-color="#292b32"/><stop offset="0.569" stop-color="#2f3136"/><stop offset="0.617" stop-color="#38393d"/><stop offset="0.664" stop-color="#434446"/><stop offset="0.711" stop-color="#505151"/><stop offset="0.759" stop-color="#5d5e5e"/><stop offset="0.806" stop-color="#6b6c6a"/><stop offset="0.854" stop-color="#787875"/><stop offset="0.901" stop-color="#82837e"/><stop offset="0.949" stop-color="#8b8b85"/><stop offset="0.996" stop-color="#92918b"/><stop offset="1.000" stop-color="#93928c"/></linearGradient>
<linearGradient id="f48" x1="0" x2="1"><stop offset="0.000" stop-color="#171921"/><stop offset="0.047" stop-color="#181a22"/><stop offset="0.095" stop-color="#1a1c24"/><stop offset="0.142" stop-color="#1c1e25"/><stop offset="0.190" stop-color="#1e2027"/><stop offset="0.237" stop-color="#202228"/><stop offset="0.285" stop-color="#21232a"/><stop offset="0.332" stop-color="#22242b"/><stop offset="0.379" stop-color="#23252c"/><stop offset="0.427" stop-color="#24262d"/><stop offset="0.474" stop-color="#25282f"/><stop offset="0.522" stop-color="#292c32"/><stop offset="0.569" stop-color="#303136"/><stop offset="0.617" stop-color="#393a3d"/><stop offset="0.664" stop-color="#444546"/><stop offset="0.711" stop-color="#515252"/><stop offset="0.759" stop-color="#5f605f"/><stop offset="0.806" stop-color="#6d6e6c"/><stop offset="0.854" stop-color="#7a7a77"/><stop offset="0.901" stop-color="#858580"/><stop offset="0.949" stop-color="#8e8d88"/><stop offset="0.996" stop-color="#95948d"/><stop offset="1.000" stop-color="#96948e"/></linearGradient>
<linearGradient id="f49" x1="0" x2="1"><stop offset="0.000" stop-color="#171921"/><stop offset="0.047" stop-color="#181a22"/><stop offset="0.095" stop-color="#1a1c24"/><stop offset="0.142" stop-color="#1c1e25"/><stop offset="0.190" stop-color="#1e2027"/><stop offset="0.237" stop-color="#202229"/><stop offset="0.285" stop-color="#22232a"/><stop offset="0.332" stop-color="#23242b"/><stop offset="0.379" stop-color="#23252c"/><stop offset="0.427" stop-color="#24262e"/><stop offset="0.474" stop-color="#26282f"/><stop offset="0.522" stop-color="#2a2c32"/><stop offset="0.569" stop-color="#303236"/><stop offset="0.617" stop-color="#393a3d"/><stop offset="0.664" stop-color="#444547"/><stop offset="0.711" stop-color="#525353"/><stop offset="0.759" stop-color="#606160"/><stop offset="0.806" stop-color="#6f6f6d"/><stop offset="0.854" stop-color="#7d7d79"/><stop offset="0.901" stop-color="#888883"/><stop offset="0.949" stop-color="#91908a"/><stop offset="0.996" stop-color="#989690"/><stop offset="1.000" stop-color="#999790"/></linearGradient>
<linearGradient id="f50" x1="0" x2="1"><stop offset="0.000" stop-color="#171921"/><stop offset="0.047" stop-color="#181a22"/><stop offset="0.095" stop-color="#1a1c24"/><stop offset="0.142" stop-color="#1d1e25"/><stop offset="0.190" stop-color="#1f2027"/><stop offset="0.237" stop-color="#212229"/><stop offset="0.285" stop-color="#22242a"/><stop offset="0.332" stop-color="#23252b"/><stop offset="0.379" stop-color="#24262d"/><stop offset="0.427" stop-color="#24272e"/><stop offset="0.474" stop-color="#26292f"/><stop offset="0.522" stop-color="#2a2c32"/><stop offset="0.569" stop-color="#313237"/><stop offset="0.617" stop-color="#3a3b3e"/><stop offset="0.664" stop-color="#454647"/><stop offset="0.711" stop-color="#535454"/><stop offset="0.759" stop-color="#626261"/><stop offset="0.806" stop-color="#71716f"/><stop offset="0.854" stop-color="#7f7f7b"/><stop offset="0.901" stop-color="#8b8a85"/><stop offset="0.949" stop-color="#94938c"/><stop offset="0.996" stop-color="#9b9992"/><stop offset="1.000" stop-color="#9b9992"/></linearGradient>
<linearGradient id="f51" x1="0" x2="1"><stop offset="0.000" stop-color="#171921"/><stop offset="0.047" stop-color="#181a23"/><stop offset="0.095" stop-color="#1a1c24"/><stop offset="0.142" stop-color="#1d1e25"/><stop offset="0.190" stop-color="#1f2127"/><stop offset="0.237" stop-color="#212329"/><stop offset="0.285" stop-color="#22242a"/><stop offset="0.332" stop-color="#23252c"/><stop offset="0.379" stop-color="#24262d"/><stop offset="0.427" stop-color="#25272e"/><stop offset="0.474" stop-color="#272930"/><stop offset="0.522" stop-color="#2b2c32"/><stop offset="0.569" stop-color="#313237"/><stop offset="0.617" stop-color="#3a3b3e"/><stop offset="0.664" stop-color="#464748"/><stop offset="0.711" stop-color="#545555"/><stop offset="0.759" stop-color="#636463"/><stop offset="0.806" stop-color="#737370"/><stop offset="0.854" stop-color="#81817d"/><stop offset="0.901" stop-color="#8e8d87"/><stop offset="0.949" stop-color="#97958e"/><stop offset="0.996" stop-color="#9e9b94"/><stop offset="1.000" stop-color="#9e9c94"/></linearGradient>
<linearGradient id="f52" x1="0" x2="1"><stop offset="0.000" stop-color="#171922"/><stop offset="0.047" stop-color="#191a23"/><stop offset="0.095" stop-color="#1b1c24"/><stop offset="0.142" stop-color="#1d1f26"/><stop offset="0.190" stop-color="#1f2127"/><stop offset="0.237" stop-color="#212329"/><stop offset="0.285" stop-color="#23252b"/><stop offset="0.332" stop-color="#24262c"/><stop offset="0.379" stop-color="#24262d"/><stop offset="0.427" stop-color="#25272e"/><stop offset="0.474" stop-color="#272930"/><stop offset="0.522" stop-color="#2b2d33"/><stop offset="0.569" stop-color="#313337"/><stop offset="0.617" stop-color="#3b3b3e"/><stop offset="0.664" stop-color="#474749"/><stop offset="0.711" stop-color="#555655"/><stop offset="0.759" stop-color="#656564"/><stop offset="0.806" stop-color="#757572"/><stop offset="0.854" stop-color="#84837f"/><stop offset="0.901" stop-color="#918f89"/><stop offset="0.949" stop-color="#9a9891"/><stop offset="0.996" stop-color="#a09e96"/><stop offset="1.000" stop-color="#a19e96"/></linearGradient>
<linearGradient id="f53" x1="0" x2="1"><stop offset="0.000" stop-color="#171922"/><stop offset="0.047" stop-color="#191b23"/><stop offset="0.095" stop-color="#1b1d24"/><stop offset="0.142" stop-color="#1d1f26"/><stop offset="0.190" stop-color="#1f2128"/><stop offset="0.237" stop-color="#222329"/><stop offset="0.285" stop-color="#23252b"/><stop offset="0.332" stop-color="#24262c"/><stop offset="0.379" stop-color="#25272d"/><stop offset="0.427" stop-color="#26282e"/><stop offset="0.474" stop-color="#282a30"/><stop offset="0.522" stop-color="#2c2d33"/><stop offset="0.569" stop-color="#323337"/><stop offset="0.617" stop-color="#3b3c3f"/><stop offset="0.664" stop-color="#474849"/><stop offset="0.711" stop-color="#565756"/><stop offset="0.759" stop-color="#666765"/><stop offset="0.806" stop-color="#777773"/><stop offset="0.854" stop-color="#868580"/><stop offset="0.901" stop-color="#93928b"/><stop offset="0.949" stop-color="#9d9b93"/><stop offset="0.996" stop-color="#a3a098"/><stop offset="1.000" stop-color="#a4a198"/></linearGradient>
<linearGradient id="f54" x1="0" x2="1"><stop offset="0.000" stop-color="#171922"/><stop offset="0.047" stop-color="#191b23"/><stop offset="0.095" stop-color="#1b1d24"/><stop offset="0.142" stop-color="#1d1f26"/><stop offset="0.190" stop-color="#202228"/><stop offset="0.237" stop-color="#222429"/><stop offset="0.285" stop-color="#24262b"/><stop offset="0.332" stop-color="#25272c"/><stop offset="0.379" stop-color="#26272d"/><stop offset="0.427" stop-color="#26282f"/><stop offset="0.474" stop-color="#282a30"/><stop offset="0.522" stop-color="#2c2e33"/><stop offset="0.569" stop-color="#323338"/><stop offset="0.617" stop-color="#3c3c3f"/><stop offset="0.664" stop-color="#48494a"/><stop offset="0.711" stop-color="#575857"/><stop offset="0.759" stop-color="#686866"/><stop offset="0.806" stop-color="#797875"/><stop offset="0.854" stop-color="#888782"/><stop offset="0.901" stop-color="#96948d"/><stop offset="0.949" stop-color="#a09d95"/><stop offset="0.996" stop-color="#a6a39a"/><stop offset="1.000" stop-color="#a6a39a"/></linearGradient>
<linearGradient id="f55" x1="0" x2="1"><stop offset="0.000" stop-color="#171922"/><stop offset="0.047" stop-color="#191b23"/><stop offset="0.095" stop-color="#1b1d24"/><stop offset="0.142" stop-color="#1e1f26"/><stop offset="0.190" stop-color="#202228"/><stop offset="0.237" stop-color="#22242a"/><stop offset="0.285" stop-color="#24262b"/><stop offset="0.332" stop-color="#25272d"/><stop offset="0.379" stop-color="#26282e"/><stop offset="0.427" stop-color="#27292f"/><stop offset="0.474" stop-color="#292b31"/><stop offset="0.522" stop-color="#2d2e34"/><stop offset="0.569" stop-color="#333438"/><stop offset="0.617" stop-color="#3c3d40"/><stop offset="0.664" stop-color="#494a4a"/><stop offset="0.711" stop-color="#585958"/><stop offset="0.759" stop-color="#696967"/><stop offset="0.806" stop-color="#7b7a76"/><stop offset="0.854" stop-color="#8b8984"/><stop offset="0.901" stop-color="#99968f"/><stop offset="0.949" stop-color="#a3a097"/><stop offset="0.996" stop-color="#a9a59c"/><stop offset="1.000" stop-color="#a9a69c"/></linearGradient>
<linearGradient id="f56" x1="0" x2="1"><stop offset="0.000" stop-color="#171922"/><stop offset="0.047" stop-color="#191b23"/><stop offset="0.095" stop-color="#1b1d25"/><stop offset="0.142" stop-color="#1e2026"/><stop offset="0.190" stop-color="#202228"/><stop offset="0.237" stop-color="#23252a"/><stop offset="0.285" stop-color="#25272c"/><stop offset="0.332" stop-color="#26282d"/><stop offset="0.379" stop-color="#27282e"/><stop offset="0.427" stop-color="#28292f"/><stop offset="0.474" stop-color="#2a2b31"/><stop offset="0.522" stop-color="#2e2f34"/><stop offset="0.569" stop-color="#343439"/><stop offset="0.617" stop-color="#3d3e40"/><stop offset="0.664" stop-color="#4a4b4b"/><stop offset="0.711" stop-color="#5a5a59"/><stop offset="0.759" stop-color="#6b6b68"/><stop offset="0.806" stop-color="#7c7c78"/><stop offset="0.854" stop-color="#8d8b86"/><stop offset="0.901" stop-color="#9b9991"/><stop offset="0.949" stop-color="#a6a399"/><stop offset="0.996" stop-color="#aba79e"/><stop offset="1.000" stop-color="#aca89e"/></linearGradient>
<linearGradient id="f57" x1="0" x2="1"><stop offset="0.000" stop-color="#171922"/><stop offset="0.047" stop-color="#191b23"/><stop offset="0.095" stop-color="#1b1d25"/><stop offset="0.142" stop-color="#1e2026"/><stop offset="0.190" stop-color="#212328"/><stop offset="0.237" stop-color="#23252a"/><stop offset="0.285" stop-color="#25272c"/><stop offset="0.332" stop-color="#26282d"/><stop offset="0.379" stop-color="#27292e"/><stop offset="0.427" stop-color="#282a30"/><stop offset="0.474" stop-color="#2a2c31"/><stop offset="0.522" stop-color="#2e2f34"/><stop offset="0.569" stop-color="#343539"/><stop offset="0.617" stop-color="#3e3e41"/><stop offset="0.664" stop-color="#4b4b4c"/><stop offset="0.711" stop-color="#5b5b5a"/><stop offset="0.759" stop-color="#6c6c69"/><stop offset="0.806" stop-color="#7e7d79"/><stop offset="0.854" stop-color="#8f8d87"/><stop offset="0.901" stop-color="#9e9b93"/><stop offset="0.949" stop-color="#a9a59b"/><stop offset="0.996" stop-color="#aeaa9f"/><stop offset="1.000" stop-color="#aeaaa0"/></linearGradient>
<linearGradient id="f58" x1="0" x2="1"><stop offset="0.000" stop-color="#171922"/><stop offset="0.047" stop-color="#191b23"/><stop offset="0.095" stop-color="#1c1e25"/><stop offset="0.142" stop-color="#1e2027"/><stop offset="0.190" stop-color="#212329"/><stop offset="0.237" stop-color="#24262a"/><stop offset="0.285" stop-color="#26282c"/><stop offset="0.332" stop-color="#27292e"/><stop offset="0.379" stop-color="#282a2f"/><stop offset="0.427" stop-color="#292b30"/><stop offset="0.474" stop-color="#2b2d32"/><stop offset="0.522" stop-color="#2f3035"/><stop offset="0.569" stop-color="#35353a"/><stop offset="0.617" stop-color="#3f3f41"/><stop offset="0.664" stop-color="#4c4c4d"/><stop offset="0.711" stop-color="#5c5c5a"/><stop offset="0.759" stop-color="#6e6e6a"/><stop offset="0.806" stop-color="#807f7b"/><stop offset="0.854" stop-color="#918f89"/><stop offset="0.901" stop-color="#a09d95"/><stop offset="0.949" stop-color="#aba79d"/><stop offset="0.996" stop-color="#b0aca1"/><stop offset="1.000" stop-color="#b1aca2"/></linearGradient>
<linearGradient id="f59" x1="0" x2="1"><stop offset="0.000" stop-color="#181a22"/><stop offset="0.047" stop-color="#1a1c23"/><stop offset="0.095" stop-color="#1c1e25"/><stop offset="0.142" stop-color="#1f2127"/><stop offset="0.190" stop-color="#212329"/><stop offset="0.237" stop-color="#24262b"/><stop offset="0.285" stop-color="#26282d"/><stop offset="0.332" stop-color="#28292e"/><stop offset="0.379" stop-color="#282a2f"/><stop offset="0.427" stop-color="#2a2b30"/><stop offset="0.474" stop-color="#2c2d32"/><stop offset="0.522" stop-color="#303135"/><stop offset="0.569" stop-color="#36363a"/><stop offset="0.617" stop-color="#404042"/><stop offset="0.664" stop-color="#4d4d4d"/><stop offset="0.711" stop-color="#5d5d5b"/><stop offset="0.759" stop-color="#6f6f6b"/><stop offset="0.806" stop-color="#82817c"/><stop offset="0.854" stop-color="#93918a"/><stop offset="0.901" stop-color="#a29f96"/><stop offset="0.949" stop-color="#aea99f"/><stop offset="0.996" stop-color="#b3aea3"/><stop offset="1.000" stop-color="#b3aea3"/></linearGradient>
<linearGradient id="f60" x1="0" x2="1"><stop offset="0.000" stop-color="#181a22"/><stop offset="0.047" stop-color="#1a1c24"/><stop offset="0.095" stop-color="#1c1e25"/><stop offset="0.142" stop-color="#1f2127"/><stop offset="0.190" stop-color="#222429"/><stop offset="0.237" stop-color="#24262b"/><stop offset="0.285" stop-color="#27292d"/><stop offset="0.332" stop-color="#282a2e"/><stop offset="0.379" stop-color="#292b2f"/><stop offset="0.427" stop-color="#2b2c31"/><stop offset="0.474" stop-color="#2d2e33"/><stop offset="0.522" stop-color="#313136"/><stop offset="0.569" stop-color="#37373b"/><stop offset="0.617" stop-color="#414143"/><stop offset="0.664" stop-color="#4e4e4e"/><stop offset="0.711" stop-color="#5e5e5c"/><stop offset="0.759" stop-color="#71706d"/><stop offset="0.806" stop-color="#84827d"/><stop offset="0.854" stop-color="#95938c"/><stop offset="0.901" stop-color="#a4a198"/><stop offset="0.949" stop-color="#b0aba0"/><stop offset="0.996" stop-color="#b5b0a5"/><stop offset="1.000" stop-color="#b6b0a5"/></linearGradient>
<linearGradient id="f61" x1="0" x2="1"><stop offset="0.000" stop-color="#181a22"/><stop offset="0.047" stop-color="#1a1c24"/><stop offset="0.095" stop-color="#1d1e26"/><stop offset="0.142" stop-color="#1f2127"/><stop offset="0.190" stop-color="#222429"/><stop offset="0.237" stop-color="#25272b"/><stop offset="0.285" stop-color="#27292d"/><stop offset="0.332" stop-color="#292b2f"/><stop offset="0.379" stop-color="#2a2b30"/><stop offset="0.427" stop-color="#2b2d31"/><stop offset="0.474" stop-color="#2e2f33"/><stop offset="0.522" stop-color="#323237"/><stop offset="0.569" stop-color="#38383b"/><stop offset="0.617" stop-color="#424244"/><stop offset="0.664" stop-color="#504f4f"/><stop offset="0.711" stop-color="#60605d"/><stop offset="0.759" stop-color="#72726e"/><stop offset="0.806" stop-color="#85847e"/><stop offset="0.854" stop-color="#97948d"/><stop offset="0.901" stop-color="#a6a299"/><stop offset="0.949" stop-color="#b1ada2"/><stop offset="0.996" stop-color="#b7b2a6"/><stop offset="1.000" stop-color="#b8b2a7"/></linearGradient>
<linearGradient id="f62" x1="0" x2="1"><stop offset="0.000" stop-color="#181a23"/><stop offset="0.047" stop-color="#1a1c24"/><stop offset="0.095" stop-color="#1d1f26"/><stop offset="0.142" stop-color="#202228"/><stop offset="0.190" stop-color="#23252a"/><stop offset="0.237" stop-color="#25272c"/><stop offset="0.285" stop-color="#282a2e"/><stop offset="0.332" stop-color="#292b2f"/><stop offset="0.379" stop-color="#2b2c30"/><stop offset="0.427" stop-color="#2c2d32"/><stop offset="0.474" stop-color="#2f3034"/><stop offset="0.522" stop-color="#333337"/><stop offset="0.569" stop-color="#39393c"/><stop offset="0.617" stop-color="#434344"/><stop offset="0.664" stop-color="#515150"/><stop offset="0.711" stop-color="#61615e"/><stop offset="0.759" stop-color="#74736f"/><stop offset="0.806" stop-color="#87857f"/><stop offset="0.854" stop-color="#98968e"/><stop offset="0.901" stop-color="#a8a49a"/><stop offset="0.949" stop-color="#b3aea3"/><stop offset="0.996" stop-color="#b9b4a8"/><stop offset="1.000" stop-color="#bab4a8"/></linearGradient>
<clipPath id="cp"><rect x="0" y="176" width="506" height="252.5"/></clipPath>
<radialGradient id="glow" cx="530" cy="450" r="320" gradientUnits="userSpaceOnUse">
<stop offset="0" stop-color="#aca699"/><stop offset="0.3" stop-color="#7a766e"/><stop offset="0.65" stop-color="#3a3b3e" stop-opacity="0.7"/><stop offset="1" stop-color="#1b1e27" stop-opacity="0"/>
</radialGradient>
<radialGradient id="glow2" cx="510" cy="190" r="240" gradientUnits="userSpaceOnUse">
<stop offset="0" stop-color="#525862"/><stop offset="0.5" stop-color="#3a3e48" stop-opacity="0.7"/><stop offset="1" stop-color="#1b1e27" stop-opacity="0"/>
</radialGradient>
<linearGradient id="bezel" x1="0" x2="1"><stop offset="0" stop-color="#222c36"/><stop offset="1" stop-color="#37414b"/></linearGradient>
<clipPath id="hmiclip"><rect x="943.3" y="272" width="173.7" height="135.5"/></clipPath>
<linearGradient id="srv" x1="0" x2="1"><stop offset="0" stop-color="#dcdcdc"/><stop offset="0.55" stop-color="#cacaca"/><stop offset="0.85" stop-color="#c2c2c2"/><stop offset="1" stop-color="#d0d0d0"/></linearGradient>
<linearGradient id="srvtop" x1="0" y1="0" x2="0" y2="1"><stop offset="0" stop-color="#dadada"/><stop offset="1" stop-color="#bebebe"/></linearGradient>
<linearGradient id="srvside" x1="0" x2="1"><stop offset="0" stop-color="#a8a8a8"/><stop offset="1" stop-color="#fafafa"/></linearGradient>
</defs>
<g clip-path="url(#cp)">
<rect x="0" y="176" width="506" height="4" fill="url(#f0)"/><rect x="0" y="180" width="506" height="4" fill="url(#f1)"/><rect x="0" y="184" width="506" height="4" fill="url(#f2)"/><rect x="0" y="188" width="506" height="4" fill="url(#f3)"/><rect x="0" y="192" width="506" height="4" fill="url(#f4)"/><rect x="0" y="196" width="506" height="4" fill="url(#f5)"/><rect x="0" y="200" width="506" height="4" fill="url(#f6)"/><rect x="0" y="204" width="506" height="4" fill="url(#f7)"/><rect x="0" y="208" width="506" height="4" fill="url(#f8)"/><rect x="0" y="212" width="506" height="4" fill="url(#f9)"/><rect x="0" y="216" width="506" height="4" fill="url(#f10)"/><rect x="0" y="220" width="506" height="4" fill="url(#f11)"/><rect x="0" y="224" width="506" height="4" fill="url(#f12)"/><rect x="0" y="228" width="506" height="4" fill="url(#f13)"/><rect x="0" y="232" width="506" height="4" fill="url(#f14)"/><rect x="0" y="236" width="506" height="4" fill="url(#f15)"/><rect x="0" y="240" width="506" height="4" fill="url(#f16)"/><rect x="0" y="244" width="506" height="4" fill="url(#f17)"/><rect x="0" y="248" width="506" height="4" fill="url(#f18)"/><rect x="0" y="252" width="506" height="4" fill="url(#f19)"/><rect x="0" y="256" width="506" height="4" fill="url(#f20)"/><rect x="0" y="260" width="506" height="4" fill="url(#f21)"/><rect x="0" y="264" width="506" height="4" fill="url(#f22)"/><rect x="0" y="268" width="506" height="4" fill="url(#f23)"/><rect x="0" y="272" width="506" height="4" fill="url(#f24)"/><rect x="0" y="276" width="506" height="4" fill="url(#f25)"/><rect x="0" y="280" width="506" height="4" fill="url(#f26)"/><rect x="0" y="284" width="506" height="4" fill="url(#f27)"/><rect x="0" y="288" width="506" height="4" fill="url(#f28)"/><rect x="0" y="292" width="506" height="4" fill="url(#f29)"/><rect x="0" y="296" width="506" height="4" fill="url(#f30)"/><rect x="0" y="300" width="506" height="4" fill="url(#f31)"/><rect x="0" y="304" width="506" height="4" fill="url(#f32)"/><rect x="0" y="308" width="506" height="4" fill="url(#f33)"/><rect x="0" y="312" width="506" height="4" fill="url(#f34)"/><rect x="0" y="316" width="506" height="4" fill="url(#f35)"/><rect x="0" y="320" width="506" height="4" fill="url(#f36)"/><rect x="0" y="324" width="506" height="4" fill="url(#f37)"/><rect x="0" y="328" width="506" height="4" fill="url(#f38)"/><rect x="0" y="332" width="506" height="4" fill="url(#f39)"/><rect x="0" y="336" width="506" height="4" fill="url(#f40)"/><rect x="0" y="340" width="506" height="4" fill="url(#f41)"/><rect x="0" y="344" width="506" height="4" fill="url(#f42)"/><rect x="0" y="348" width="506" height="4" fill="url(#f43)"/><rect x="0" y="352" width="506" height="4" fill="url(#f44)"/><rect x="0" y="356" width="506" height="4" fill="url(#f45)"/><rect x="0" y="360" width="506" height="4" fill="url(#f46)"/><rect x="0" y="364" width="506" height="4" fill="url(#f47)"/><rect x="0" y="368" width="506" height="4" fill="url(#f48)"/><rect x="0" y="372" width="506" height="4" fill="url(#f49)"/><rect x="0" y="376" width="506" height="4" fill="url(#f50)"/><rect x="0" y="380" width="506" height="4" fill="url(#f51)"/><rect x="0" y="384" width="506" height="4" fill="url(#f52)"/><rect x="0" y="388" width="506" height="4" fill="url(#f53)"/><rect x="0" y="392" width="506" height="4" fill="url(#f54)"/><rect x="0" y="396" width="506" height="4" fill="url(#f55)"/><rect x="0" y="400" width="506" height="4" fill="url(#f56)"/><rect x="0" y="404" width="506" height="4" fill="url(#f57)"/><rect x="0" y="408" width="506" height="4" fill="url(#f58)"/><rect x="0" y="412" width="506" height="4" fill="url(#f59)"/><rect x="0" y="416" width="506" height="4" fill="url(#f60)"/><rect x="0" y="420" width="506" height="4" fill="url(#f61)"/><rect x="0" y="424" width="506" height="4" fill="url(#f62)"/>
<polygon points="0,176 506,176 506,198 465,176 412,176 280,183.5 200,187 0,195" fill="#6b645b"/>
<rect x="18" y="300" width="2.2" height="18" fill="#161a30"/>
<rect x="60" y="297" width="2.2" height="13" fill="#161a30"/>
<rect x="64" y="297" width="2.2" height="13" fill="#161a30"/>
<rect x="140" y="292" width="2.2" height="12" fill="#161a30"/>
<rect x="152" y="292" width="2.2" height="14" fill="#161a30"/>
<rect x="208" y="288" width="2.2" height="12" fill="#161a30"/>
<rect x="218" y="310" width="2.2" height="20" fill="#161a30"/>
<rect x="277" y="309" width="2.2" height="21" fill="#161a30"/>
<rect x="300" y="300" width="2.2" height="12" fill="#161a30"/>
<rect x="312" y="298" width="2.2" height="14" fill="#161a30"/>
<rect x="360" y="296" width="2.2" height="10" fill="#161a30"/>
<rect x="372" y="296" width="2.2" height="10" fill="#161a30"/>
<rect x="398" y="294" width="2.2" height="10" fill="#161a30"/>
<rect x="436" y="286" width="2.2" height="10" fill="#161a30"/>
<rect x="441" y="296" width="2.2" height="10" fill="#161a30"/>
<rect x="470" y="340" width="2.2" height="12" fill="#161a30"/>
<rect x="419" y="348" width="2.2" height="8" fill="#161a30"/>
<rect x="424" y="348" width="2.2" height="8" fill="#161a30"/>
<rect x="175" y="418" width="2.2" height="10" fill="#161a30"/>
<rect x="185" y="418" width="2.2" height="10" fill="#161a30"/>
<rect x="247" y="405" width="2.2" height="20" fill="#161a30"/>
<rect x="285" y="410" width="2.2" height="14" fill="#161a30"/>
<rect x="332" y="398" width="2.2" height="14" fill="#161a30"/>
<rect x="338" y="398" width="2.2" height="14" fill="#161a30"/>
<rect x="455" y="388" width="2.2" height="12" fill="#161a30"/>
<rect x="461" y="388" width="2.2" height="10" fill="#161a30"/>
<rect x="490" y="384" width="2.2" height="14" fill="#161a30"/>
<polygon points="45,339 138,331 148,378 150,428 5,428" fill="#317049"/>
<polygon points="92,389 150,382 150,428 80,428" fill="#42826a"/>
<polygon points="125,386 150,382 150,428 118,428" fill="#4b825a"/>
<text class="s" x="75.5" y="371.5" font-size="6" fill="#151515" text-anchor="middle">MB2</text>
<text class="s" x="74.5" y="380" font-size="6" fill="#151515" text-anchor="middle" textLength="99" lengthAdjust="spacingAndGlyphs">TIRE BUILDING MACHINE</text>
<polygon points="328,281 355,280 355,282 328,283" fill="#2b3068"/><polygon points="326,262 352,261 355,280 328,281" fill="#7a84c0" stroke="#2b3068" stroke-width="1.8" stroke-linejoin="round"/>
<polygon points="390,280 416,276 416,278 390,282" fill="#2b3068"/><polygon points="381,265 406,260 416,276 390,280" fill="#8a94c8" stroke="#2b3068" stroke-width="1.8" stroke-linejoin="round"/>
<polygon points="288,210 396,205 432.5,242 431,272 310,276 296,276 287,240" fill="#2d5e38"/>
<polygon points="288,210 307,248 310,276 296,276 287,240" fill="#2e6a3c"/>
<polygon points="316,248 354,247 356,270 318,271" fill="#5a8a6c" opacity="0.45"/>
<polygon points="368,246 392,245 397,266 371,268" fill="#5a8a6c" opacity="0.45"/>
<polygon points="288,210 396,205 432.5,242 307,248" fill="#4e9668"/>
<text class="s" x="357.5" y="221.3" font-size="4.3" fill="#1a1a1a" text-anchor="middle" textLength="18.5" lengthAdjust="spacingAndGlyphs">COVER</text>
<text class="s" x="357.5" y="226.2" font-size="4.3" fill="#1a1a1a" text-anchor="middle" textLength="16.5" lengthAdjust="spacingAndGlyphs">VERIF.</text>
<text class="s" x="358" y="231.3" font-size="4.8" fill="#1a1a1a" text-anchor="middle" textLength="13.5" lengthAdjust="spacingAndGlyphs">POST</text>
<polygon points="329,282 356,281 356,283 329,284" fill="#2b3068"/><polygon points="327,266 354,265 356,281 329,282" fill="#8a92c4" stroke="#2b3068" stroke-width="1.8" stroke-linejoin="round"/>
<polygon points="388,279 416,276 416,278 388,281" fill="#2b3068"/><polygon points="378,262 406,260 416,276 388,279" fill="#8a94c8" stroke="#2b3068" stroke-width="1.8" stroke-linejoin="round"/>
<polygon points="-5,298.5 280,284 280,288 -5,302.5" fill="#2b3068"/><polygon points="-5,280 280,263 280,284 -5,298.5" fill="url(#beltA)" stroke="#2b3068" stroke-width="1.8" stroke-linejoin="round"/>
<polygon points="214,313 279,311 279,315 214,317" fill="#2b3068"/><polygon points="213,293 279,291 279,311 214,313" fill="#7684b2" stroke="#2b3068" stroke-width="1.8" stroke-linejoin="round"/>
<polygon points="280,302 313,300 313,304 280,306" fill="#2b3068"/><polygon points="279,281 312,279 313,300 280,302" fill="#8291c8" stroke="#2b3068" stroke-width="1.8" stroke-linejoin="round"/>
<polygon points="433,350 468,349 468,352 433,353" fill="#2b3068"/><polygon points="390,280 416,276 468,349 433,350" fill="url(#beltD)" stroke="#2b3068" stroke-width="1.8" stroke-linejoin="round"/>
<polygon points="140,419 256,406 256,411 140,424" fill="#2b3068"/><polygon points="140,381 252,370 256,406 140,419" fill="#7484b0" stroke="#2b3068" stroke-width="1.8" stroke-linejoin="round"/>
<polygon points="282,411.5 344,396.5 344,400.5 282,415.5" fill="#2b3068"/><polygon points="282,372 331,361 344,396.5 282,411.5" fill="#5c6a96" stroke="#2b3068" stroke-width="1.8" stroke-linejoin="round"/>
<polygon points="344,396.5 459,385 459,389 344,400.5" fill="#2b3068"/><polygon points="331,361 442,354 459,385 344,396.5" fill="url(#beltE)" stroke="#2b3068" stroke-width="1.8" stroke-linejoin="round"/>
<line x1="20" y1="280" x2="10" y2="298" stroke="#3a4590" stroke-width="0.8" opacity="0.7"/>
<line x1="70" y1="276" x2="58" y2="296" stroke="#3a4590" stroke-width="0.8" opacity="0.7"/>
<line x1="130" y1="272" x2="142" y2="292" stroke="#3a4590" stroke-width="0.8" opacity="0.7"/>
<line x1="185" y1="268" x2="196" y2="289" stroke="#3a4590" stroke-width="0.8" opacity="0.7"/>
<line x1="250" y1="265" x2="252" y2="285" stroke="#3a4590" stroke-width="0.8" opacity="0.7"/>
<line x1="345" y1="363" x2="350" y2="394" stroke="#3a4590" stroke-width="0.8" opacity="0.7"/>
<line x1="394" y1="358" x2="402" y2="390" stroke="#3a4590" stroke-width="0.8" opacity="0.7"/>
<polygon points="311,276 401,273 402,294 312,297" fill="#2f323c" stroke="#2b3068" stroke-width="1.5"/>
<line x1="313.0" y1="276" x2="314.0" y2="296" stroke="#4a4e5a" stroke-width="0.8"/>
<line x1="320.5" y1="276" x2="321.5" y2="296" stroke="#4a4e5a" stroke-width="0.8"/>
<line x1="328.0" y1="276" x2="329.0" y2="296" stroke="#4a4e5a" stroke-width="0.8"/>
<line x1="335.5" y1="276" x2="336.5" y2="296" stroke="#4a4e5a" stroke-width="0.8"/>
<line x1="343.0" y1="276" x2="344.0" y2="296" stroke="#4a4e5a" stroke-width="0.8"/>
<line x1="350.5" y1="276" x2="351.5" y2="296" stroke="#4a4e5a" stroke-width="0.8"/>
<line x1="358.0" y1="276" x2="359.0" y2="296" stroke="#4a4e5a" stroke-width="0.8"/>
<line x1="365.5" y1="276" x2="366.5" y2="296" stroke="#4a4e5a" stroke-width="0.8"/>
<line x1="373.0" y1="276" x2="374.0" y2="296" stroke="#4a4e5a" stroke-width="0.8"/>
<line x1="380.5" y1="276" x2="381.5" y2="296" stroke="#4a4e5a" stroke-width="0.8"/>
<line x1="388.0" y1="276" x2="389.0" y2="296" stroke="#4a4e5a" stroke-width="0.8"/>
<line x1="395.5" y1="276" x2="396.5" y2="296" stroke="#4a4e5a" stroke-width="0.8"/>
<polygon points="335,275.5 370,274.5 371,295 336,296" fill="#8c8e96"/>
<line x1="337" y1="275.5" x2="337.5" y2="295.5" stroke="#5a5c66" stroke-width="0.8"/>
<line x1="341" y1="275.5" x2="341.5" y2="295.5" stroke="#5a5c66" stroke-width="0.8"/>
<line x1="345" y1="275.5" x2="345.5" y2="295.5" stroke="#5a5c66" stroke-width="0.8"/>
<line x1="349" y1="275.5" x2="349.5" y2="295.5" stroke="#5a5c66" stroke-width="0.8"/>
<line x1="353" y1="275.5" x2="353.5" y2="295.5" stroke="#5a5c66" stroke-width="0.8"/>
<line x1="357" y1="275.5" x2="357.5" y2="295.5" stroke="#5a5c66" stroke-width="0.8"/>
<line x1="361" y1="275.5" x2="361.5" y2="295.5" stroke="#5a5c66" stroke-width="0.8"/>
<line x1="365" y1="275.5" x2="365.5" y2="295.5" stroke="#5a5c66" stroke-width="0.8"/>
<line x1="369" y1="275.5" x2="369.5" y2="295.5" stroke="#5a5c66" stroke-width="0.8"/>
<polygon points="335,294.5 371,293.5 371,298.5 335,299.5" fill="#d9c43c"/>
<polygon points="390,272 412,270 420,286 398,288" fill="#a4a8b8"/>
<polygon points="412,270 416,269 426,284 421,286" fill="#d8d040"/>
<polygon points="440,352.8 469.7,349.6 494,380.5 460,386" fill="#a2a6b2" stroke="#2b3068" stroke-width="1"/>
<line x1="443.0" y1="352.5" x2="463.0" y2="381" stroke="#6a6e7a" stroke-width="0.8"/>
<line x1="447.2" y1="352.5" x2="467.4" y2="381" stroke="#6a6e7a" stroke-width="0.8"/>
<line x1="451.4" y1="352.5" x2="471.8" y2="381" stroke="#6a6e7a" stroke-width="0.8"/>
<line x1="455.6" y1="352.5" x2="476.2" y2="381" stroke="#6a6e7a" stroke-width="0.8"/>
<line x1="459.8" y1="352.5" x2="480.6" y2="381" stroke="#6a6e7a" stroke-width="0.8"/>
<line x1="464.0" y1="352.5" x2="485.0" y2="381" stroke="#6a6e7a" stroke-width="0.8"/>
<line x1="468.2" y1="352.5" x2="489.4" y2="381" stroke="#6a6e7a" stroke-width="0.8"/>
<polygon points="460,381 494,377.5 495,382 461,386.5" fill="#d9c43c"/>
<line x1="427" y1="351.5" x2="470" y2="349.5" stroke="#e8eaf0" stroke-width="1.2"/>
<g transform="translate(102,280.5) rotate(-8)"><path d="M-14,-2.75 L-14,2.75 A14,8.5 0 0,0 14,2.75 L14,-2.75 A14,8.5 0 0,0 -14,-2.75 Z M-8.68,0 A10.08,5.41 0 0,0 8.68,0 A10.08,5.41 0 0,0 -8.68,0 Z" fill="#4b4e52" fill-rule="evenodd"/><path d="M-14.00,-2.75 a14.00,8.50 0 1,0 28.00,0 a14.00,8.50 0 1,0 -28.00,0 Z M-10.08,-2.75 a10.08,5.41 0 1,0 20.16,0 a10.08,5.41 0 1,0 -20.16,0 Z" fill="url(#tireg)" fill-rule="evenodd"/></g>
<g transform="translate(317.2,283.2) rotate(-5)"><path d="M-11.6,-2.25 L-11.6,2.25 A11.6,6.3 0 0,0 11.6,2.25 L11.6,-2.25 A11.6,6.3 0 0,0 -11.6,-2.25 Z M-6.58,0 A8.12,3.84 0 0,0 6.58,0 A8.12,3.84 0 0,0 -6.58,0 Z" fill="#4b4e52" fill-rule="evenodd"/><path d="M-11.60,-2.25 a11.60,6.30 0 1,0 23.20,0 a11.60,6.30 0 1,0 -23.20,0 Z M-8.12,-2.25 a8.12,3.84 0 1,0 16.24,0 a8.12,3.84 0 1,0 -16.24,0 Z" fill="url(#tireg)" fill-rule="evenodd"/></g>
<g transform="translate(340.9,263) rotate(0)"><path d="M-11.1,-2.0 L-11.1,2.0 A11.1,5.8 0 0,0 11.1,2.0 L11.1,-2.0 A11.1,5.8 0 0,0 -11.1,-2.0 Z M-6.41,0 A7.77,3.54 0 0,0 6.41,0 A7.77,3.54 0 0,0 -6.41,0 Z" fill="#4b4e52" fill-rule="evenodd"/><path d="M-11.10,-2.00 a11.10,5.80 0 1,0 22.20,0 a11.10,5.80 0 1,0 -22.20,0 Z M-7.77,-2.00 a7.77,3.54 0 1,0 15.54,0 a7.77,3.54 0 1,0 -15.54,0 Z" fill="url(#tireg)" fill-rule="evenodd"/></g>
<g transform="translate(393,258.3) rotate(0)"><path d="M-11,-2.0 L-11,2.0 A11,5.8 0 0,0 11,2.0 L11,-2.0 A11,5.8 0 0,0 -11,-2.0 Z M-6.35,0 A7.70,3.54 0 0,0 6.35,0 A7.70,3.54 0 0,0 -6.35,0 Z" fill="#4b4e52" fill-rule="evenodd"/><path d="M-11.00,-2.00 a11.00,5.80 0 1,0 22.00,0 a11.00,5.80 0 1,0 -22.00,0 Z M-7.70,-2.00 a7.70,3.54 0 1,0 15.40,0 a7.70,3.54 0 1,0 -15.40,0 Z" fill="url(#tireg)" fill-rule="evenodd"/></g>
<g transform="translate(420.5,292.2) rotate(12)"><path d="M-13.3,-2.75 L-13.3,2.75 A13.3,7.6 0 0,0 13.3,2.75 L13.3,-2.75 A13.3,7.6 0 0,0 -13.3,-2.75 Z M-7.88,0 A9.58,4.83 0 0,0 7.88,0 A9.58,4.83 0 0,0 -7.88,0 Z" fill="#4b4e52" fill-rule="evenodd"/><path d="M-13.30,-2.75 a13.30,7.60 0 1,0 26.60,0 a13.30,7.60 0 1,0 -26.60,0 Z M-9.58,-2.75 a9.58,4.83 0 1,0 19.15,0 a9.58,4.83 0 1,0 -19.15,0 Z" fill="url(#tireg)" fill-rule="evenodd"/></g>
<g transform="translate(161.8,391.2) rotate(-25)"><path d="M-15,-2.5 L-15,2.5 A15,11.5 0 0,0 15,2.5 L15,-2.5 A15,11.5 0 0,0 -15,-2.5 Z M-11.14,0 A11.70,8.21 0 0,0 11.14,0 A11.70,8.21 0 0,0 -11.14,0 Z" fill="#4b4e52" fill-rule="evenodd"/><path d="M-15.00,-2.50 a15.00,11.50 0 1,0 30.00,0 a15.00,11.50 0 1,0 -30.00,0 Z M-11.70,-2.50 a11.70,8.21 0 1,0 23.40,0 a11.70,8.21 0 1,0 -23.40,0 Z" fill="url(#tireg)" fill-rule="evenodd"/></g>
<g transform="translate(421.2,367.2) rotate(22)"><path d="M-16,-3.25 L-16,3.25 A16,10 0 0,0 16,3.25 L16,-3.25 A16,10 0 0,0 -16,-3.25 Z M-11.11,0 A12.48,7.14 0 0,0 11.11,0 A12.48,7.14 0 0,0 -11.11,0 Z" fill="#4b4e52" fill-rule="evenodd"/><path d="M-16.00,-3.25 a16.00,10.00 0 1,0 32.00,0 a16.00,10.00 0 1,0 -32.00,0 Z M-12.48,-3.25 a12.48,7.14 0 1,0 24.96,0 a12.48,7.14 0 1,0 -24.96,0 Z" fill="url(#tireg)" fill-rule="evenodd"/></g>
<polygon points="265,367 267.5,366.5 274,410 271.5,411" fill="#d8dae0"/>
<polygon points="269,377 271.5,377 278,412 275.5,412.5" fill="#c8cad2"/>
<rect x="270" y="366.7" width="14" height="33" rx="6" fill="#505356"/>
<rect x="274" y="368" width="9" height="30" rx="4.5" fill="#66696c"/>
<rect x="4" y="297.5" width="10.5" height="3.5" rx="1" fill="#d8d8e0"/>
<polygon points="12,304 35,303.5 35,315 12,315.5" fill="#e4e4ea"/>
<ellipse cx="17" cy="308" rx="2" ry="1.2" fill="#555"/><ellipse cx="27" cy="307.5" rx="2" ry="1.2" fill="#555"/>
<polygon points="9,315 26,314.5 25,321.5 8.5,322" fill="#e8e8ee"/>
<ellipse cx="17.5" cy="317.5" rx="2" ry="1" fill="#d03030"/>
<polygon points="4.5,306 7,305 12,316 9.5,317" fill="#dcdce2"/>
<polygon points="36,303.5 39,303 45,318 42,318.5" fill="#dcdce2"/>
<polygon points="227,317 250,316.5 250,326 227,326.5" fill="#e4e4ea"/>
<ellipse cx="233" cy="321" rx="1.8" ry="1.2" fill="#555"/><ellipse cx="244" cy="321" rx="1.8" ry="1.2" fill="#555"/>
<rect x="218" y="316" width="3" height="13" fill="#d8d8de"/><rect x="255" y="315" width="3" height="14" fill="#d8d8de"/><rect x="255" y="314" width="3" height="3" fill="#c04040"/>
<rect x="17" y="276" width="12" height="3" rx="1" fill="#c8cad2"/>
<rect x="122" y="295" width="12" height="3" rx="1" fill="#c8cad2"/>
<rect x="194" y="289" width="7" height="3" rx="1" fill="#c8cad2"/>
<rect x="182" y="371.5" width="12" height="3" rx="1" fill="#c8cad2"/>
<rect x="284" y="368" width="10" height="3" rx="1" fill="#c8cad2"/>
<rect x="340" y="357" width="10" height="3" rx="1" fill="#c8cad2"/>
<rect x="268" y="289" width="10" height="3" rx="1" fill="#c8cad2"/>
<ellipse cx="418.7" cy="341" rx="6.5" ry="4.2" fill="#e88a1c"/>
<text class="s" x="418.7" y="343.5" font-size="6" fill="#f8e0b0" text-anchor="middle">S</text>
<rect x="426" y="338" width="40" height="5" fill="#3cbc48" opacity="0.85"/>
<polygon points="466,338 471,339 469,343" fill="#111"/>
<rect x="0" y="427.2" width="506" height="1.5" fill="#222226" opacity="0.8"/>
</g>
<text x="62" y="152" font-size="18.5" fill="#111">Virtual Production System</text>
<text x="637" y="205.5" font-size="18.8" fill="#111">PLC</text>
<text x="931" y="22.5" font-size="18.5" fill="#111">WCS/WMS</text>
<text x="986" y="252.8" font-size="18.8" fill="#111">HMI</text>
<g fill="#0f807e">
<g transform="translate(558.25,270.5)">
<path d="M-45.5,-16.3 L-25,-37 L-25,-26.3 L39,-26.3 L39,-6.3 L-25,-6.3 L-25,4.4 Z"/>
<path d="M45,16.3 L25,-4.5 L25,6.3 L-38.5,6.3 L-38.5,26.3 L25,26.3 L25,37 Z"/>
</g>
<g transform="translate(855.8,160.8) rotate(-38)"><path d="M-56.8,-12.0 L-36.8,-32.0 L-36.8,-22.0 L52,-22.0 L52,-2.0 L-36.8,-2.0 L-36.8,8.0 Z"/><path d="M55.2,12.0 L35.2,-8.0 L35.2,2.0 L-50.4,2.0 L-50.4,22.0 L35.2,22.0 L35.2,32.0 Z"/></g>
<g transform="translate(856.5,340.3) rotate(19.3)"><path d="M-59.7,-11.75 L-39.7,-31.75 L-39.7,-21.75 L50.5,-21.75 L50.5,-1.75 L-39.7,-1.75 L-39.7,8.25 Z"/><path d="M56.6,11.75 L36.6,-8.25 L36.6,1.75 L-47.3,1.75 L-47.3,21.75 L36.6,21.75 L36.6,31.75 Z"/></g>
</g>
<g>
<path d="M633,233 L786,233 Q790,233 790,237 L790,300 Q790,304 786,304 L633,304 Q626,304 625.5,296 Q624.5,268 625.5,241 Q626,233 633,233 Z" fill="#d8d2ca"/>
<path d="M633,245 L646,246 L646,304 L633,304 Q626,304 625.5,296 Q624.5,268 625.5,244 Z" fill="#d3ccc4"/>
<path d="M633,233 L695,233 L695,248 Q660,246 640,245.5 Q630,245 625.5,244 L625.5,241 Q626,233 633,233 Z" fill="#0c0c0c"/>
<circle cx="639.7" cy="241.5" r="2.6" fill="#4a78b8"/>
<rect x="646" y="241" width="18" height="1.3" fill="#777"/>
<rect x="664" y="240.5" width="30" height="0.8" fill="#334"/>
<rect x="647" y="249.0" width="48" height="1.3" fill="#e6e2dc"/>
<rect x="696" y="250.0" width="85" height="1.3" fill="#e6e2dc"/>
<rect x="647" y="252.3" width="48" height="1.3" fill="#e6e2dc"/>
<rect x="696" y="253.3" width="85" height="1.3" fill="#e6e2dc"/>
<rect x="647" y="255.6" width="48" height="1.3" fill="#e6e2dc"/>
<rect x="696" y="256.6" width="85" height="1.3" fill="#e6e2dc"/>
<rect x="647" y="258.9" width="48" height="1.3" fill="#e6e2dc"/>
<rect x="696" y="259.9" width="85" height="1.3" fill="#e6e2dc"/>
<rect x="647" y="262.2" width="48" height="1.3" fill="#e6e2dc"/>
<rect x="696" y="263.2" width="85" height="1.3" fill="#e6e2dc"/>
<rect x="647" y="265.5" width="48" height="1.3" fill="#e6e2dc"/>
<rect x="696" y="266.5" width="85" height="1.3" fill="#e6e2dc"/>
<rect x="647" y="268.8" width="48" height="1.3" fill="#e6e2dc"/>
<rect x="696" y="269.8" width="85" height="1.3" fill="#e6e2dc"/>
<rect x="647" y="272.1" width="48" height="1.3" fill="#e6e2dc"/>
<rect x="696" y="273.1" width="85" height="1.3" fill="#e6e2dc"/>
<rect x="647" y="275.4" width="48" height="1.3" fill="#e6e2dc"/>
<rect x="696" y="276.4" width="85" height="1.3" fill="#e6e2dc"/>
<rect x="647" y="278.7" width="48" height="1.3" fill="#e6e2dc"/>
<rect x="696" y="279.7" width="85" height="1.3" fill="#e6e2dc"/>
<rect x="647" y="282.0" width="48" height="1.3" fill="#e6e2dc"/>
<rect x="696" y="283.0" width="85" height="1.3" fill="#e6e2dc"/>
<rect x="647" y="285.3" width="48" height="1.3" fill="#e6e2dc"/>
<rect x="696" y="286.3" width="85" height="1.3" fill="#e6e2dc"/>
<rect x="647" y="288.6" width="48" height="1.3" fill="#e6e2dc"/>
<rect x="696" y="289.6" width="85" height="1.3" fill="#e6e2dc"/>
<rect x="647" y="291.9" width="48" height="1.3" fill="#e6e2dc"/>
<rect x="696" y="292.9" width="85" height="1.3" fill="#e6e2dc"/>
<rect x="647" y="295.2" width="48" height="1.3" fill="#e6e2dc"/>
<rect x="696" y="296.2" width="85" height="1.3" fill="#e6e2dc"/>
<rect x="647" y="298.5" width="48" height="1.3" fill="#e6e2dc"/>
<rect x="696" y="299.5" width="85" height="1.3" fill="#e6e2dc"/>
<rect x="647" y="301.8" width="48" height="1.3" fill="#e6e2dc"/>
<rect x="696" y="302.8" width="85" height="1.3" fill="#e6e2dc"/>
<rect x="695" y="233" width="22" height="16" fill="#0a0a0a"/>
<rect x="697" y="234" width="18" height="1.5" fill="#eee"/>
<rect x="717" y="233" width="64" height="16" fill="#858585"/>
<rect x="718" y="233.5" width="20" height="1.8" fill="#3a6cc0"/>
<rect x="739" y="233.5" width="21" height="1.8" fill="#2a5cb8"/>
<rect x="761" y="233.5" width="20" height="1.8" fill="#9aa6d8"/>
<polygon points="728,238 733,243 728,248 723,243" fill="#d05068"/>
<rect x="694.5" y="233" width="1.6" height="71" fill="#4a4a4a"/>
<rect x="716.5" y="233" width="1.6" height="71" fill="#4a4a4a"/>
<rect x="738" y="233" width="1.6" height="71" fill="#4a4a4a"/>
<rect x="760" y="233" width="1.6" height="71" fill="#4a4a4a"/>
<rect x="781" y="233" width="1.6" height="71" fill="#4a4a4a"/>
<path d="M782,233 L786,233 Q790,233 790,237 L790,300 Q790,304 786,304 L782,304 Z" fill="#0a0a0a"/>
<rect x="782" y="249" width="8" height="1.5" fill="#666"/>
<rect x="782" y="288" width="8" height="1.5" fill="#666"/>
<circle cx="706" cy="257.5" r="4.3" fill="#111"/><rect x="705" y="253" width="2" height="3" fill="#666"/>
<rect x="700.5" y="261" width="13.5" height="11.5" fill="#111"/>
<rect x="703.7" y="266.5" width="7.3" height="2.5" fill="#ddd"/>
<path d="M703,272.5 L704.5,278.5 L707.5,278.5 L709,272.5" fill="none" stroke="#777" stroke-width="0.8"/>
<rect x="772" y="256" width="3" height="5" fill="#111"/><polygon points="775,255 779,258.5 775,262" fill="#111"/>
</g>
<rect x="1003" y="41" width="3" height="118" fill="#727272"/>
<rect x="1006" y="43" width="6" height="116" fill="url(#srvside)"/>
<rect x="948" y="41" width="55.5" height="117.5" fill="url(#srv)"/>
<rect x="948" y="41" width="55.5" height="10" fill="url(#srvtop)"/>
<rect x="948" y="50.5" width="55.5" height="1.6" fill="#7a7a7a"/>
<circle cx="995.3" cy="45.8" r="3.4" fill="#f6f6f6" stroke="#8a8a8a" stroke-width="0.7"/>
<rect x="995" y="44" width="0.8" height="3" fill="#555"/>
<line x1="997" y1="54" x2="997" y2="76" stroke="#dc8c9c" stroke-width="1.3" stroke-dasharray="2.5,1.2"/>
<rect x="953.5" y="78.6" width="45" height="1.5" fill="#787878"/>
<rect x="953.5" y="80.39999999999999" width="45" height="2.5" fill="#ececec" opacity="0.8"/>
<rect x="953.5" y="88.5" width="45" height="1.5" fill="#787878"/>
<rect x="953.5" y="90.3" width="45" height="2.5" fill="#ececec" opacity="0.8"/>
<rect x="953.5" y="97.8" width="45" height="1.5" fill="#787878"/>
<rect x="953.5" y="99.6" width="45" height="2.5" fill="#ececec" opacity="0.8"/>
<rect x="953.5" y="107.4" width="45" height="1.5" fill="#787878"/>
<rect x="953.5" y="109.2" width="45" height="2.5" fill="#ececec" opacity="0.8"/>
<rect x="953.5" y="117.2" width="45" height="1.5" fill="#787878"/>
<rect x="953.5" y="119.0" width="45" height="2.5" fill="#ececec" opacity="0.8"/>
<rect x="953.5" y="127" width="45" height="1.5" fill="#787878"/>
<rect x="953.5" y="128.8" width="45" height="2.5" fill="#ececec" opacity="0.8"/>
<rect x="953.5" y="137.4" width="45" height="1.5" fill="#787878"/>
<rect x="953.5" y="139.20000000000002" width="45" height="2.5" fill="#ececec" opacity="0.8"/>
<rect x="951.5" y="158.5" width="6" height="4" rx="1" fill="#1a1a1a"/>
<rect x="996.5" y="158.5" width="6" height="4" rx="1" fill="#1a1a1a"/>
<g clip-path="url(#hmiclip)">
<rect x="943" y="272" width="174" height="136" fill="#e2e4e5"/>
<rect x="943" y="272" width="36" height="18" fill="#c6c9cc"/>
<rect x="977" y="272" width="6" height="18" fill="#a8acae"/>
<rect x="983" y="272" width="28" height="18" fill="#dcdedf"/>
<rect x="1013.5" y="272" width="6" height="17" fill="#5c6266"/>
<rect x="1020" y="272" width="97" height="26" fill="#eceeee"/>
<rect x="943" y="390" width="174" height="18" fill="#dde0e2"/>
<rect x="943" y="392" width="25" height="16" fill="#a6c0dc"/>
<rect x="968" y="392" width="14" height="16" fill="#8a8f93"/>
<rect x="1034" y="392" width="7" height="16" fill="#6e7377"/>
<polygon points="943,283.5 1113,295.5 1113,397 943,392.6" fill="url(#bezel)"/>
<rect x="1113" y="272" width="4" height="136" fill="#f2f2f2"/>
<polygon points="954.5,296.6 1103,304 1103,387 954.5,382.4" fill="#d6dbde"/>
<rect x="955" y="286.5" width="13" height="4" fill="#2f9d9e"/>
<rect x="956.3" y="302" width="71" height="37" fill="#eceef0"/>
<rect x="958.4" y="303" width="69" height="5" fill="#c4cacf"/>
<rect x="1007" y="308" width="18" height="4" fill="#4a5a6a"/>
<rect x="956.3" y="340.6" width="71" height="37" fill="#eceef0"/>
<rect x="958.4" y="341.6" width="69" height="5" fill="#c4cacf"/>
<rect x="1007" y="346.6" width="18" height="4" fill="#4a5a6a"/>
<rect x="962.6" y="319.3" width="3" height="9" fill="#3a4858"/>
<rect x="962.6" y="316.8" width="3" height="2.5" fill="#e86448"/>
<rect x="962.6" y="322.8" width="3" height="2.2" fill="#f0c438" opacity="0.9"/>
<rect x="966.1" y="322.3" width="3" height="6" fill="#3a4858"/>
<rect x="966.1" y="319.8" width="3" height="2.5" fill="#e86448"/>
<rect x="966.1" y="324.3" width="3" height="2.2" fill="#f0c438" opacity="0.9"/>
<rect x="969.6" y="318.3" width="3" height="10" fill="#3a4858"/>
<rect x="969.6" y="315.8" width="3" height="2.5" fill="#e86448"/>
<rect x="969.6" y="322.3" width="3" height="2.2" fill="#f0c438" opacity="0.9"/>
<rect x="973.1" y="323.3" width="3" height="5" fill="#3a4858"/>
<rect x="973.1" y="320.8" width="3" height="2.5" fill="#e86448"/>
<rect x="973.1" y="324.8" width="3" height="2.2" fill="#f0c438" opacity="0.9"/>
<rect x="976.6" y="321.3" width="3" height="7" fill="#3a4858"/>
<rect x="976.6" y="318.8" width="3" height="2.5" fill="#e86448"/>
<rect x="976.6" y="323.8" width="3" height="2.2" fill="#f0c438" opacity="0.9"/>
<rect x="980.1" y="320.3" width="3" height="8" fill="#3a4858"/>
<rect x="980.1" y="317.8" width="3" height="2.5" fill="#e86448"/>
<rect x="980.1" y="323.3" width="3" height="2.2" fill="#f0c438" opacity="0.9"/>
<rect x="983.6" y="322.3" width="3" height="6" fill="#3a4858"/>
<rect x="983.6" y="319.8" width="3" height="2.5" fill="#e86448"/>
<rect x="983.6" y="324.3" width="3" height="2.2" fill="#f0c438" opacity="0.9"/>
<rect x="987.1" y="318.3" width="3" height="10" fill="#3a4858"/>
<rect x="987.1" y="315.8" width="3" height="2.5" fill="#e86448"/>
<rect x="987.1" y="322.3" width="3" height="2.2" fill="#f0c438" opacity="0.9"/>
<rect x="990.6" y="321.3" width="3" height="7" fill="#3a4858"/>
<rect x="990.6" y="318.8" width="3" height="2.5" fill="#e86448"/>
<rect x="990.6" y="323.8" width="3" height="2.2" fill="#f0c438" opacity="0.9"/>
<rect x="994.1" y="319.3" width="3" height="9" fill="#3a4858"/>
<rect x="994.1" y="316.8" width="3" height="2.5" fill="#e86448"/>
<rect x="994.1" y="322.8" width="3" height="2.2" fill="#f0c438" opacity="0.9"/>
<rect x="997.6" y="322.3" width="3" height="6" fill="#3a4858"/>
<rect x="997.6" y="319.8" width="3" height="2.5" fill="#e86448"/>
<rect x="997.6" y="324.3" width="3" height="2.2" fill="#f0c438" opacity="0.9"/>
<rect x="1001.1" y="321.3" width="3" height="7" fill="#3a4858"/>
<rect x="1001.1" y="318.8" width="3" height="2.5" fill="#e86448"/>
<rect x="1001.1" y="323.8" width="3" height="2.2" fill="#f0c438" opacity="0.9"/>
<rect x="1004.6" y="320.3" width="3" height="8" fill="#3a4858"/>
<rect x="1004.6" y="317.8" width="3" height="2.5" fill="#e86448"/>
<rect x="1004.6" y="323.3" width="3" height="2.2" fill="#f0c438" opacity="0.9"/>
<rect x="1008.1" y="322.3" width="3" height="6" fill="#3a4858"/>
<rect x="1008.1" y="319.8" width="3" height="2.5" fill="#e86448"/>
<rect x="1008.1" y="324.3" width="3" height="2.2" fill="#f0c438" opacity="0.9"/>
<rect x="962.6" y="330" width="49" height="5.5" fill="#3c4a5a"/>
<rect x="968.0" y="330" width="0.8" height="5.5" fill="#dfe3e6"/>
<rect x="973.3" y="330" width="0.8" height="5.5" fill="#dfe3e6"/>
<rect x="978.6" y="330" width="0.8" height="5.5" fill="#dfe3e6"/>
<rect x="983.9" y="330" width="0.8" height="5.5" fill="#dfe3e6"/>
<rect x="989.2" y="330" width="0.8" height="5.5" fill="#dfe3e6"/>
<rect x="994.5" y="330" width="0.8" height="5.5" fill="#dfe3e6"/>
<rect x="999.8" y="330" width="0.8" height="5.5" fill="#dfe3e6"/>
<rect x="1005.1" y="330" width="0.8" height="5.5" fill="#dfe3e6"/>
<rect x="1010.4" y="330" width="0.8" height="5.5" fill="#dfe3e6"/>
<rect x="1018" y="315.2" width="8" height="23" fill="#dde1e4" stroke="#4a5560" stroke-width="1.2"/>
<polygon points="962,366 962,353 968,351 974,352 980,354 986,357 992,360 998,363 1006,365 1011,366" fill="#3a4858"/>
<polyline points="962,352.5 968,350 974,351 980,353 986,356 992,359 998,362 1006,364" fill="none" stroke="#e86448" stroke-width="2"/>
<polyline points="962,356 968,354 974,355 980,357 986,359 992,362 998,364 1006,365.5" fill="none" stroke="#f0c438" stroke-width="1.8"/>
<rect x="962.6" y="367.5" width="49" height="4.5" fill="#3c4a5a"/>
<rect x="968.0" y="367.5" width="0.8" height="4.5" fill="#dfe3e6"/>
<rect x="973.3" y="367.5" width="0.8" height="4.5" fill="#dfe3e6"/>
<rect x="978.6" y="367.5" width="0.8" height="4.5" fill="#dfe3e6"/>
<rect x="983.9" y="367.5" width="0.8" height="4.5" fill="#dfe3e6"/>
<rect x="989.2" y="367.5" width="0.8" height="4.5" fill="#dfe3e6"/>
<rect x="994.5" y="367.5" width="0.8" height="4.5" fill="#dfe3e6"/>
<rect x="999.8" y="367.5" width="0.8" height="4.5" fill="#dfe3e6"/>
<rect x="1005.1" y="367.5" width="0.8" height="4.5" fill="#dfe3e6"/>
<rect x="1010.4" y="367.5" width="0.8" height="4.5" fill="#dfe3e6"/>
<rect x="1018" y="352" width="8" height="22" fill="#dde1e4" stroke="#4a5560" stroke-width="1.2"/>
<rect x="1012" y="377" width="5" height="4.5" fill="#3c4a5a"/><rect x="1024" y="377.5" width="4" height="4" fill="#3c4a5a"/>
<rect x="1029" y="307" width="52" height="36" fill="#c6cbcf"/>
<rect x="1029" y="346" width="52" height="36" fill="#c6cbcf"/>
<circle cx="1043" cy="325" r="9" fill="#eceeee" stroke="#3a4450" stroke-width="1.6"/>
<polygon points="1037,331 1045,322 1049,331" fill="#4a5462"/><circle cx="1047" cy="324" r="1.5" fill="#d05050"/>
<circle cx="1043" cy="362" r="9" fill="#eceeee" stroke="#3a4450" stroke-width="1.6"/>
<rect x="1054" y="313.5" width="12" height="5" fill="#f4f4f4" stroke="#555" stroke-width="0.7"/>
<rect x="1054" y="322" width="12" height="4" fill="#b0b6bb"/>
<rect x="1054" y="330.5" width="6" height="6" fill="#5aa650"/><rect x="1060" y="330.5" width="6" height="6" fill="#48525c"/>
<rect x="1054" y="351" width="12" height="5" fill="#f4f4f4" stroke="#555" stroke-width="0.7"/>
<rect x="1053" y="358" width="12" height="6" fill="#e8d030"/>
<rect x="1068" y="314" width="6.5" height="24" fill="#48525e"/><rect x="1074" y="323" width="3.5" height="4" fill="#48525e"/>
<rect x="1068" y="352" width="6.5" height="24" fill="#48525e"/><rect x="1074" y="361" width="3.5" height="4" fill="#48525e"/>
<polygon points="1083,306.5 1103,307.5 1103,387 1083,386" fill="#eef0f1"/>
<rect x="1085" y="313.0" width="15.5" height="3.4" fill="#5e6872"/>
<rect x="1085" y="318.8" width="15.5" height="3.4" fill="#5e6872"/>
<rect x="1085" y="324.6" width="15.5" height="3.4" fill="#5e6872"/>
<rect x="1085" y="330.4" width="15.5" height="3.4" fill="#5e6872"/>
<rect x="1085" y="336.2" width="15.5" height="3.4" fill="#5e6872"/>
<rect x="1085" y="342.0" width="15.5" height="3.4" fill="#5e6872"/>
<circle cx="1092.5" cy="377" r="6.5" fill="#5e6a78"/>
<rect x="1113" y="326" width="4" height="10" fill="#2a5a90"/>
<path d="M1025,355 Q1030,354 1036,357 L1046,362 Q1056,364 1064,370 Q1070,375 1077,382 L1073,394 Q1062,393 1054,389 Q1046,386 1040,382 L1030,377.5 Q1026,375.5 1028,373.5 L1036,373 Q1034,369 1037,366 L1034,362.5 Q1027,359.5 1025,357 Z" fill="#d8a68a"/>
<path d="M1046,364 Q1058,367 1068,376 L1071,382 Q1060,379 1050,372 Z" fill="#c89478" opacity="0.6"/>
<path d="M1075,383 Q1096,386 1118,391 L1118,408 L1069,408 Q1070,393 1075,383 Z" fill="#6396d0"/>
<path d="M1085,392 Q1098,394 1110,400 L1104,406 Q1094,400 1085,398 Z" fill="#4a7cbc" opacity="0.7"/>
</g>
</svg>
</body></html>
